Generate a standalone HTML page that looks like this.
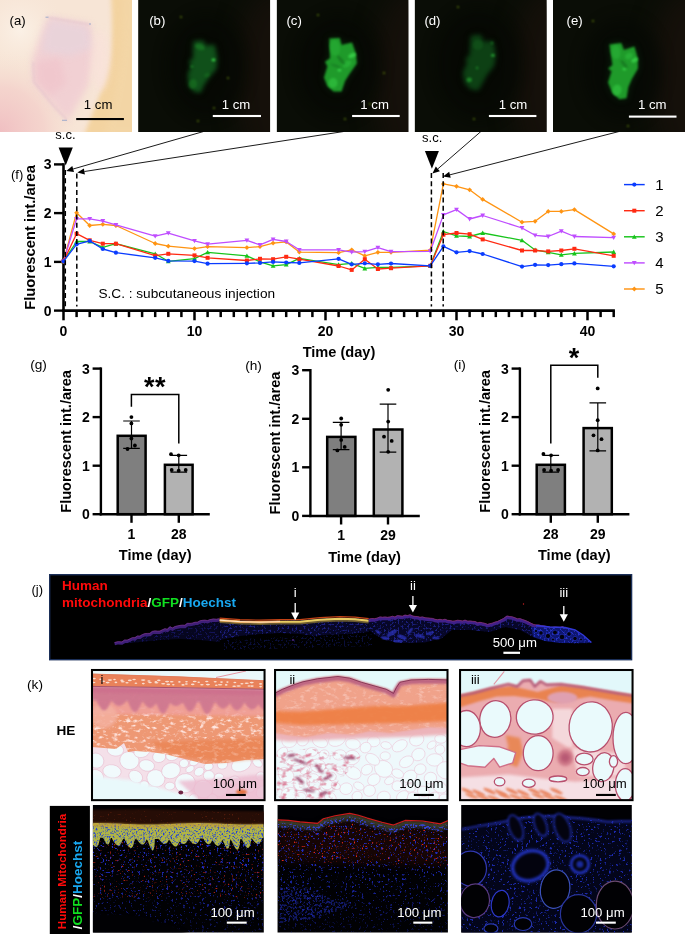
<!DOCTYPE html>
<html lang="en"><head><meta charset="utf-8"><title>Figure</title>
<style>
html,body{margin:0;padding:0;background:#fff}
body{width:685px;height:934px;overflow:hidden;font-family:"Liberation Sans",Arial,sans-serif}
svg{display:block}
svg text{font-family:"Liberation Sans",Arial,sans-serif}
</style></head><body>
<svg width="685" height="934" viewBox="0 0 685 934">
<rect width="685" height="934" fill="#fff"/>
<defs>
<filter id="bl1" color-interpolation-filters="sRGB" filterUnits="userSpaceOnUse" x="-60" y="-60" width="820" height="1100"><feGaussianBlur stdDeviation="1"/></filter>
<filter id="bl2" color-interpolation-filters="sRGB" filterUnits="userSpaceOnUse" x="-60" y="-60" width="820" height="1100"><feGaussianBlur stdDeviation="2"/></filter>
<filter id="bl3" color-interpolation-filters="sRGB" filterUnits="userSpaceOnUse" x="-60" y="-60" width="820" height="1100"><feGaussianBlur stdDeviation="3.5"/></filter>
<filter id="bl6" color-interpolation-filters="sRGB" filterUnits="userSpaceOnUse" x="-60" y="-60" width="820" height="1100"><feGaussianBlur stdDeviation="7"/></filter>
<filter id="bl12" color-interpolation-filters="sRGB" filterUnits="userSpaceOnUse" x="-60" y="-60" width="820" height="1100"><feGaussianBlur stdDeviation="12"/></filter>
<filter id="blob" color-interpolation-filters="sRGB" filterUnits="userSpaceOnUse" x="-60" y="-60" width="820" height="1100">
 <feTurbulence type="fractalNoise" baseFrequency="0.11" numOctaves="2" seed="4" result="n"/>
 <feDisplacementMap in="SourceGraphic" in2="n" scale="7" xChannelSelector="R" yChannelSelector="G"/>
 <feGaussianBlur stdDeviation="1.1"/>
</filter>
<clipPath id="ca"><rect x="0" y="0" width="132.05" height="131.9"/></clipPath>
<clipPath id="cb"><rect x="138.2" y="0" width="131.85" height="131.9"/></clipPath>
<clipPath id="cc"><rect x="276.85" y="0" width="131.45" height="131.9"/></clipPath>
<clipPath id="cd"><rect x="414.85" y="0" width="131.65" height="131.9"/></clipPath>
<clipPath id="ce"><rect x="553.1" y="0" width="131.9" height="131.9"/></clipPath>
<radialGradient id="gcorner" cx="0" cy="131" r="80" gradientUnits="userSpaceOnUse">
 <stop offset="0" stop-color="#f0bfc2"/><stop offset="0.55" stop-color="#f3cdc9" stop-opacity=".7"/><stop offset="1" stop-color="#f6e3d5" stop-opacity="0"/></radialGradient>
<radialGradient id="ghl" cx="20" cy="30" r="45" gradientUnits="userSpaceOnUse">
 <stop offset="0" stop-color="#fbf1e6"/><stop offset="1" stop-color="#f8e8da" stop-opacity="0"/></radialGradient>
</defs>
<g clip-path="url(#ca)">
<rect x="0" y="0" width="133" height="133" fill="#f7e5d6"/>
<rect x="0" y="0" width="133" height="133" fill="url(#ghl)"/>
<rect x="0" y="0" width="133" height="133" fill="url(#gcorner)"/>
<path d="M111 -5 C113 30 112 55 108 70 C103 90 94 108 84 136 L140 136 L140 -5Z" fill="#f3d3a0" filter="url(#bl2)"/>
<path d="M122 -5 C123 40 120 80 104 136 L140 136 L140 -5Z" fill="#f4d9ad" filter="url(#bl3)" opacity=".45"/>
<path d="M48 17 L90 24 L96 52 L88 86 L68 121 L52 104 L33 82 L32 60 L40 38Z" fill="#f1d0d3" filter="url(#bl3)"/>
<path d="M50 19 L88 26 L93 48 L70 56 L42 52 L44 34Z" fill="#e7d4dc" filter="url(#bl3)" opacity=".75"/>
<path d="M36 62 L60 58 L66 84 L50 96 L36 82Z" fill="#f0c2ca" filter="url(#bl3)" opacity=".6"/>
<path d="M48 17.5 L90 24.5 M33 62 L34 82 L52 104 L67 120" stroke="#dfbccb" stroke-width="1.4" fill="none" filter="url(#bl1)" opacity=".6"/>
<ellipse cx="100" cy="60" rx="9" ry="30" fill="#f9e2da" filter="url(#bl3)" opacity=".8"/>
<path d="M45.5 17.2h3M89 24h2M62 120.3h5" stroke="#8aa0c8" stroke-width="0.8"/>
</g>
<text x="9.6" y="25" font-family="Liberation Sans, Arial, sans-serif" font-size="13.2">(a)</text>
<text x="98.1" y="109.4" font-family="Liberation Sans, Arial, sans-serif" font-size="13.2" text-anchor="middle">1 cm</text>
<rect x="76.2" y="118.0" width="47.7" height="2.1"/>
<g clip-path="url(#cb)">
<rect x="137.3" y="0" width="134" height="133" fill="#0a0d06"/>
<ellipse cx="273.3" cy="80" rx="38" ry="90" fill="#15100a" filter="url(#bl12)"/>
<ellipse cx="206" cy="66" rx="40" ry="52" fill="#060904" filter="url(#bl6)" opacity=".85"/>
<path d="M193.4 41.6 L203.0 40.8 L205.6 46.0 L214.4 45.1 L217.0 58.3 L216.2 68.8 L209.2 76.7 L203.9 84.5 L200.4 92.4 L194.3 91.5 L189.0 85.4 L188.1 74.0 L191.6 66.2 L189.0 61.8 L193.4 58.3Z" fill="#0a2a0e" filter="url(#bl3)" opacity=".7"/>
<path d="M193.4 41.6 L203.0 40.8 L205.6 46.0 L214.4 45.1 L217.0 58.3 L216.2 68.8 L209.2 76.7 L203.9 84.5 L200.4 92.4 L194.3 91.5 L189.0 85.4 L188.1 74.0 L191.6 66.2 L189.0 61.8 L193.4 58.3Z" fill="#10501a" filter="url(#bl2)"/>
<ellipse cx="213.5" cy="60" rx="2" ry="1.4" transform="rotate(0 213.5 60)" fill="#38d048" filter="url(#bl1)" opacity="0.95"/>
<ellipse cx="200" cy="47" rx="5" ry="3" transform="rotate(20 200 47)" fill="#1a7a24" filter="url(#bl1)" opacity="0.7"/>
<ellipse cx="192" cy="66.5" rx="1.8" ry="1.6" transform="rotate(0 192 66.5)" fill="#1e8228" filter="url(#bl1)" opacity="0.7"/>
<ellipse cx="193" cy="84" rx="4" ry="5" transform="rotate(10 193 84)" fill="#187020" filter="url(#bl1)" opacity="0.7"/>
<ellipse cx="207" cy="75" rx="3" ry="2" transform="rotate(-30 207 75)" fill="#187020" filter="url(#bl1)" opacity="0.6"/>
<circle cx="181" cy="17" r="1.1" fill="#6a8a10" filter="url(#bl1)" opacity=".8"/>
<circle cx="228" cy="78" r="1.1" fill="#6a8a10" filter="url(#bl1)" opacity=".8"/>
<circle cx="214" cy="108" r="1.1" fill="#6a8a10" filter="url(#bl1)" opacity=".8"/>
<circle cx="198" cy="121" r="1.1" fill="#6a8a10" filter="url(#bl1)" opacity=".8"/>
</g>
<text x="149.2" y="25" font-family="Liberation Sans, Arial, sans-serif" font-size="13.2" fill="#fff">(b)</text>
<text x="236" y="108.9" font-family="Liberation Sans, Arial, sans-serif" font-size="13.2" fill="#fff" text-anchor="middle">1 cm</text>
<rect x="212.8" y="114.95" width="48.2" height="2.1" fill="#fff"/>
<g clip-path="url(#cc)">
<rect x="275.6" y="0" width="134" height="133" fill="#0a0d06"/>
<ellipse cx="411.6" cy="80" rx="38" ry="90" fill="#15100a" filter="url(#bl12)"/>
<ellipse cx="338" cy="66" rx="42" ry="52" fill="#060904" filter="url(#bl6)" opacity=".85"/>
<path d="M329.3 38.6 L339.8 38.1 L341.5 45.1 L352.0 42.5 L356.0 53.9 L356.8 63.5 L349.4 74.0 L345.0 81.0 L341.5 91.5 L333.6 91.5 L327.5 86.3 L324.0 77.5 L327.5 66.2 L324.9 61.8 L330.1 58.3Z" fill="#0c3a12" filter="url(#bl3)" opacity=".7"/>
<path d="M329.3 38.6 L339.8 38.1 L341.5 45.1 L352.0 42.5 L356.0 53.9 L356.8 63.5 L349.4 74.0 L345.0 81.0 L341.5 91.5 L333.6 91.5 L327.5 86.3 L324.0 77.5 L327.5 66.2 L324.9 61.8 L330.1 58.3Z" fill="#1f9a2a" filter="url(#bl1)"/>
<ellipse cx="352" cy="55.5" rx="4" ry="2" transform="rotate(-25 352 55.5)" fill="#3ad44a" filter="url(#bl1)" opacity="0.9"/>
<ellipse cx="339.5" cy="70" rx="2" ry="1.6" transform="rotate(0 339.5 70)" fill="#3ad44a" filter="url(#bl1)" opacity="0.9"/>
<ellipse cx="333" cy="83" rx="4.5" ry="5" transform="rotate(10 333 83)" fill="#2ebc3c" filter="url(#bl1)" opacity="0.85"/>
<ellipse cx="335" cy="48" rx="5" ry="8" transform="rotate(-8 335 48)" fill="#27ac34" filter="url(#bl1)" opacity="0.7"/>
<ellipse cx="347" cy="64" rx="5" ry="3" transform="rotate(-30 347 64)" fill="#2cb83a" filter="url(#bl1)" opacity="0.7"/>
<ellipse cx="341" cy="60" rx="1.5" ry="6" transform="rotate(-40 341 60)" fill="#136a1c" filter="url(#bl1)" opacity="0.7"/>
<ellipse cx="336" cy="66" rx="6" ry="1.2" transform="rotate(20 336 66)" fill="#147020" filter="url(#bl1)" opacity="0.6"/>
<circle cx="318" cy="15" r="1.1" fill="#6a8a10" filter="url(#bl1)" opacity=".8"/>
<circle cx="384" cy="73" r="1.1" fill="#6a8a10" filter="url(#bl1)" opacity=".8"/>
<circle cx="370" cy="104" r="1.1" fill="#6a8a10" filter="url(#bl1)" opacity=".8"/>
<circle cx="345" cy="119" r="1.1" fill="#6a8a10" filter="url(#bl1)" opacity=".8"/>
</g>
<text x="286.4" y="25" font-family="Liberation Sans, Arial, sans-serif" font-size="13.2" fill="#fff">(c)</text>
<text x="374.6" y="108.9" font-family="Liberation Sans, Arial, sans-serif" font-size="13.2" fill="#fff" text-anchor="middle">1 cm</text>
<rect x="352.1" y="114.95" width="47.6" height="2.1" fill="#fff"/>
<g clip-path="url(#cd)">
<rect x="413.9" y="0" width="134" height="133" fill="#0a0d06"/>
<ellipse cx="549.9" cy="80" rx="38" ry="90" fill="#15100a" filter="url(#bl12)"/>
<ellipse cx="478" cy="64" rx="44" ry="56" fill="#060904" filter="url(#bl6)" opacity=".85"/>
<path d="M471.0 36.0 L480.6 35.1 L483.3 42.1 L492.9 41.3 L495.5 55.3 L493.8 65.8 L486.8 74.5 L482.4 82.4 L478.0 90.3 L470.1 88.5 L464.9 82.4 L463.1 72.8 L467.5 63.2 L465.8 58.8 L470.1 55.3Z" fill="#08240c" filter="url(#bl3)" opacity=".7"/>
<path d="M471.0 36.0 L480.6 35.1 L483.3 42.1 L492.9 41.3 L495.5 55.3 L493.8 65.8 L486.8 74.5 L482.4 82.4 L478.0 90.3 L470.1 88.5 L464.9 82.4 L463.1 72.8 L467.5 63.2 L465.8 58.8 L470.1 55.3Z" fill="#0d4014" filter="url(#bl2)"/>
<ellipse cx="492.9" cy="55.3" rx="2" ry="1.6" transform="rotate(0 492.9 55.3)" fill="#249a30" filter="url(#bl1)" opacity="0.9"/>
<ellipse cx="469.3" cy="79.8" rx="2.6" ry="2.4" transform="rotate(0 469.3 79.8)" fill="#1e8a28" filter="url(#bl1)" opacity="0.9"/>
<ellipse cx="477.1" cy="68" rx="1.4" ry="1.4" transform="rotate(0 477.1 68)" fill="#1c8026" filter="url(#bl1)" opacity="0.8"/>
<ellipse cx="492" cy="43" rx="1.5" ry="1.5" transform="rotate(0 492 43)" fill="#1a7a24" filter="url(#bl1)" opacity="0.7"/>
<ellipse cx="478" cy="45" rx="5" ry="5" transform="rotate(0 478 45)" fill="#12541a" filter="url(#bl1)" opacity="0.7"/>
<circle cx="458" cy="7" r="1.1" fill="#6a8a10" filter="url(#bl1)" opacity=".8"/>
<circle cx="474" cy="119" r="1.1" fill="#6a8a10" filter="url(#bl1)" opacity=".8"/>
</g>
<text x="424.4" y="25" font-family="Liberation Sans, Arial, sans-serif" font-size="13.2" fill="#fff">(d)</text>
<text x="513" y="108.9" font-family="Liberation Sans, Arial, sans-serif" font-size="13.2" fill="#fff" text-anchor="middle">1 cm</text>
<rect x="488.9" y="114.95" width="47.5" height="2.1" fill="#fff"/>
<g clip-path="url(#ce)">
<rect x="552.1" y="0" width="134" height="133" fill="#0a0d06"/>
<ellipse cx="688.1" cy="80" rx="38" ry="90" fill="#15100a" filter="url(#bl12)"/>
<ellipse cx="622" cy="70" rx="40" ry="52" fill="#060904" filter="url(#bl6)" opacity=".85"/>
<path d="M609.4 44.4 L621.3 43.1 L623.9 50.1 L634.4 46.6 L637.9 58.9 L637.9 68.5 L631.8 79.0 L628.3 86.9 L626.5 98.3 L619.5 99.2 L612.5 93.0 L608.1 82.5 L611.6 71.2 L608.1 68.5 L612.5 65.0Z" fill="#0c3a12" filter="url(#bl3)" opacity=".7"/>
<path d="M609.4 44.4 L621.3 43.1 L623.9 50.1 L634.4 46.6 L637.9 58.9 L637.9 68.5 L631.8 79.0 L628.3 86.9 L626.5 98.3 L619.5 99.2 L612.5 93.0 L608.1 82.5 L611.6 71.2 L608.1 68.5 L612.5 65.0Z" fill="#1f9a2a" filter="url(#bl1)"/>
<ellipse cx="634.5" cy="60" rx="3.5" ry="2" transform="rotate(-30 634.5 60)" fill="#38d048" filter="url(#bl1)" opacity="0.9"/>
<ellipse cx="624.5" cy="69" rx="2" ry="1.6" transform="rotate(0 624.5 69)" fill="#38d048" filter="url(#bl1)" opacity="0.85"/>
<ellipse cx="617" cy="90" rx="4.5" ry="5.5" transform="rotate(10 617 90)" fill="#2ebc3c" filter="url(#bl1)" opacity="0.85"/>
<ellipse cx="616" cy="52" rx="4.5" ry="7" transform="rotate(-5 616 52)" fill="#28ae36" filter="url(#bl1)" opacity="0.7"/>
<ellipse cx="629" cy="56" rx="4" ry="3" transform="rotate(-30 629 56)" fill="#2cb83a" filter="url(#bl1)" opacity="0.7"/>
<ellipse cx="624" cy="64" rx="1.4" ry="5" transform="rotate(-40 624 64)" fill="#136a1c" filter="url(#bl1)" opacity="0.7"/>
<circle cx="593" cy="21" r="1.1" fill="#6a8a10" filter="url(#bl1)" opacity=".8"/>
<circle cx="628" cy="126" r="1.1" fill="#6a8a10" filter="url(#bl1)" opacity=".8"/>
</g>
<text x="566.5" y="25" font-family="Liberation Sans, Arial, sans-serif" font-size="13.2" fill="#fff">(e)</text>
<text x="652.2" y="109.45" font-family="Liberation Sans, Arial, sans-serif" font-size="13.2" fill="#fff" text-anchor="middle">1 cm</text>
<rect x="628.9" y="115.55" width="47.6" height="2.1" fill="#fff"/>
<g id="chartf">
<path d="M63.5 163.2V311.8" stroke="#000" stroke-width="2.6" fill="none"/>
<path d="M62.2 310.6H614.9" stroke="#000" stroke-width="2.6" fill="none"/>
<path d="M54.0 310.6H63.5" stroke="#000" stroke-width="2.4"/>
<text x="51.5" y="315.6" font-family="Liberation Sans, Arial, sans-serif" font-size="14" font-weight="bold" text-anchor="end">0</text>
<path d="M54.0 261.9H63.5" stroke="#000" stroke-width="2.4"/>
<text x="51.5" y="266.9" font-family="Liberation Sans, Arial, sans-serif" font-size="14" font-weight="bold" text-anchor="end">1</text>
<path d="M54.0 213.1H63.5" stroke="#000" stroke-width="2.4"/>
<text x="51.5" y="218.1" font-family="Liberation Sans, Arial, sans-serif" font-size="14" font-weight="bold" text-anchor="end">2</text>
<path d="M54.0 164.4H63.5" stroke="#000" stroke-width="2.4"/>
<text x="51.5" y="169.4" font-family="Liberation Sans, Arial, sans-serif" font-size="14" font-weight="bold" text-anchor="end">3</text>
<path d="M63.5 310.6v9.7" stroke="#000" stroke-width="2.5"/>
<path d="M76.6 310.6v6.5" stroke="#000" stroke-width="2.5"/>
<path d="M89.7 310.6v6.5" stroke="#000" stroke-width="2.5"/>
<path d="M102.8 310.6v6.5" stroke="#000" stroke-width="2.5"/>
<path d="M115.9 310.6v6.5" stroke="#000" stroke-width="2.5"/>
<path d="M129.0 310.6v6.5" stroke="#000" stroke-width="2.5"/>
<path d="M142.1 310.6v6.5" stroke="#000" stroke-width="2.5"/>
<path d="M155.2 310.6v6.5" stroke="#000" stroke-width="2.5"/>
<path d="M168.3 310.6v6.5" stroke="#000" stroke-width="2.5"/>
<path d="M181.4 310.6v6.5" stroke="#000" stroke-width="2.5"/>
<path d="M194.5 310.6v9.7" stroke="#000" stroke-width="2.5"/>
<path d="M207.6 310.6v6.5" stroke="#000" stroke-width="2.5"/>
<path d="M220.7 310.6v6.5" stroke="#000" stroke-width="2.5"/>
<path d="M233.8 310.6v6.5" stroke="#000" stroke-width="2.5"/>
<path d="M246.9 310.6v6.5" stroke="#000" stroke-width="2.5"/>
<path d="M260.0 310.6v6.5" stroke="#000" stroke-width="2.5"/>
<path d="M273.1 310.6v6.5" stroke="#000" stroke-width="2.5"/>
<path d="M286.2 310.6v6.5" stroke="#000" stroke-width="2.5"/>
<path d="M299.3 310.6v6.5" stroke="#000" stroke-width="2.5"/>
<path d="M312.4 310.6v6.5" stroke="#000" stroke-width="2.5"/>
<path d="M325.5 310.6v9.7" stroke="#000" stroke-width="2.5"/>
<path d="M338.6 310.6v6.5" stroke="#000" stroke-width="2.5"/>
<path d="M351.7 310.6v6.5" stroke="#000" stroke-width="2.5"/>
<path d="M364.8 310.6v6.5" stroke="#000" stroke-width="2.5"/>
<path d="M377.9 310.6v6.5" stroke="#000" stroke-width="2.5"/>
<path d="M391.0 310.6v6.5" stroke="#000" stroke-width="2.5"/>
<path d="M404.1 310.6v6.5" stroke="#000" stroke-width="2.5"/>
<path d="M417.2 310.6v6.5" stroke="#000" stroke-width="2.5"/>
<path d="M430.3 310.6v6.5" stroke="#000" stroke-width="2.5"/>
<path d="M443.4 310.6v6.5" stroke="#000" stroke-width="2.5"/>
<path d="M456.5 310.6v9.7" stroke="#000" stroke-width="2.5"/>
<path d="M469.6 310.6v6.5" stroke="#000" stroke-width="2.5"/>
<path d="M482.7 310.6v6.5" stroke="#000" stroke-width="2.5"/>
<path d="M495.8 310.6v6.5" stroke="#000" stroke-width="2.5"/>
<path d="M508.9 310.6v6.5" stroke="#000" stroke-width="2.5"/>
<path d="M522.0 310.6v6.5" stroke="#000" stroke-width="2.5"/>
<path d="M535.1 310.6v6.5" stroke="#000" stroke-width="2.5"/>
<path d="M548.2 310.6v6.5" stroke="#000" stroke-width="2.5"/>
<path d="M561.3 310.6v6.5" stroke="#000" stroke-width="2.5"/>
<path d="M574.4 310.6v6.5" stroke="#000" stroke-width="2.5"/>
<path d="M587.5 310.6v9.7" stroke="#000" stroke-width="2.5"/>
<path d="M600.6 310.6v6.5" stroke="#000" stroke-width="2.5"/>
<path d="M613.7 310.6v6.5" stroke="#000" stroke-width="2.5"/>
<text x="63.5" y="335.5" font-family="Liberation Sans, Arial, sans-serif" font-size="14" font-weight="bold" text-anchor="middle">0</text>
<text x="194.5" y="335.5" font-family="Liberation Sans, Arial, sans-serif" font-size="14" font-weight="bold" text-anchor="middle">10</text>
<text x="325.5" y="335.5" font-family="Liberation Sans, Arial, sans-serif" font-size="14" font-weight="bold" text-anchor="middle">20</text>
<text x="456.5" y="335.5" font-family="Liberation Sans, Arial, sans-serif" font-size="14" font-weight="bold" text-anchor="middle">30</text>
<text x="587.5" y="335.5" font-family="Liberation Sans, Arial, sans-serif" font-size="14" font-weight="bold" text-anchor="middle">40</text>
<polyline fill="none" stroke="#ff9412" stroke-width="1.3" stroke-linejoin="round" points="63.5,261.3 76.6,212.7 89.7,225.5 102.8,224.3 115.9,225.5 155.2,243.5 168.3,246.2 194.5,248.6 207.6,246.6 246.9,247.6 260.0,246.6 273.1,243.1 286.2,241.9 299.3,252.1 338.6,252.7 351.7,249.8 364.8,255.8 377.9,252.3 391.0,252.3 430.3,250.2 443.4,183.9 456.5,186.3 469.6,189.8 482.7,199.4 522.0,222.2 535.1,221.3 548.2,211.4 561.3,211.4 574.4,209.6 613.7,233.9"/>
<path d="M63.5 258.9L65.9 261.3L63.5 263.7L61.1 261.3Z" fill="#ff9412"/>
<path d="M76.6 210.3L79.0 212.7L76.6 215.1L74.2 212.7Z" fill="#ff9412"/>
<path d="M89.7 223.1L92.1 225.5L89.7 227.9L87.3 225.5Z" fill="#ff9412"/>
<path d="M102.8 221.9L105.2 224.3L102.8 226.7L100.4 224.3Z" fill="#ff9412"/>
<path d="M115.9 223.1L118.3 225.5L115.9 227.9L113.5 225.5Z" fill="#ff9412"/>
<path d="M155.2 241.1L157.6 243.5L155.2 245.9L152.8 243.5Z" fill="#ff9412"/>
<path d="M168.3 243.8L170.7 246.2L168.3 248.6L165.9 246.2Z" fill="#ff9412"/>
<path d="M194.5 246.2L196.9 248.6L194.5 251.0L192.1 248.6Z" fill="#ff9412"/>
<path d="M207.6 244.2L210.0 246.6L207.6 249.0L205.2 246.6Z" fill="#ff9412"/>
<path d="M246.9 245.2L249.3 247.6L246.9 250.0L244.5 247.6Z" fill="#ff9412"/>
<path d="M260.0 244.2L262.4 246.6L260.0 249.0L257.6 246.6Z" fill="#ff9412"/>
<path d="M273.1 240.7L275.5 243.1L273.1 245.5L270.7 243.1Z" fill="#ff9412"/>
<path d="M286.2 239.5L288.6 241.9L286.2 244.3L283.8 241.9Z" fill="#ff9412"/>
<path d="M299.3 249.7L301.7 252.1L299.3 254.5L296.9 252.1Z" fill="#ff9412"/>
<path d="M338.6 250.3L341.0 252.7L338.6 255.1L336.2 252.7Z" fill="#ff9412"/>
<path d="M351.7 247.4L354.1 249.8L351.7 252.2L349.3 249.8Z" fill="#ff9412"/>
<path d="M364.8 253.4L367.2 255.8L364.8 258.2L362.4 255.8Z" fill="#ff9412"/>
<path d="M377.9 249.9L380.3 252.3L377.9 254.7L375.5 252.3Z" fill="#ff9412"/>
<path d="M391.0 249.9L393.4 252.3L391.0 254.7L388.6 252.3Z" fill="#ff9412"/>
<path d="M430.3 247.8L432.7 250.2L430.3 252.6L427.9 250.2Z" fill="#ff9412"/>
<path d="M443.4 181.5L445.8 183.9L443.4 186.3L441.0 183.9Z" fill="#ff9412"/>
<path d="M456.5 183.9L458.9 186.3L456.5 188.7L454.1 186.3Z" fill="#ff9412"/>
<path d="M469.6 187.4L472.0 189.8L469.6 192.2L467.2 189.8Z" fill="#ff9412"/>
<path d="M482.7 197.0L485.1 199.4L482.7 201.8L480.3 199.4Z" fill="#ff9412"/>
<path d="M522.0 219.8L524.4 222.2L522.0 224.6L519.6 222.2Z" fill="#ff9412"/>
<path d="M535.1 218.9L537.5 221.3L535.1 223.7L532.7 221.3Z" fill="#ff9412"/>
<path d="M548.2 209.0L550.6 211.4L548.2 213.8L545.8 211.4Z" fill="#ff9412"/>
<path d="M561.3 209.0L563.7 211.4L561.3 213.8L558.9 211.4Z" fill="#ff9412"/>
<path d="M574.4 207.2L576.8 209.6L574.4 212.0L572.0 209.6Z" fill="#ff9412"/>
<path d="M613.7 231.5L616.1 233.9L613.7 236.3L611.3 233.9Z" fill="#ff9412"/>
<polyline fill="none" stroke="#bf4dff" stroke-width="1.3" stroke-linejoin="round" points="63.5,261.3 76.6,218.8 89.7,218.8 102.8,221.1 115.9,224.9 155.2,236.2 168.3,233.1 194.5,240.9 207.6,244.1 246.9,240.4 260.0,244.9 273.1,239.4 286.2,241.5 299.3,249.8 338.6,249.8 351.7,252.1 364.8,251.7 377.9,247.6 391.0,251.7 430.3,251.3 443.4,214.9 456.5,209.6 469.6,219.0 482.7,215.5 522.0,228.0 535.1,235.3 548.2,236.5 561.3,231.2 574.4,236.5 613.7,237.7"/>
<path d="M63.5 263.7L65.9 259.4L61.1 259.4Z" fill="#bf4dff"/>
<path d="M76.6 221.2L79.0 216.9L74.2 216.9Z" fill="#bf4dff"/>
<path d="M89.7 221.2L92.1 216.9L87.3 216.9Z" fill="#bf4dff"/>
<path d="M102.8 223.5L105.2 219.1L100.4 219.1Z" fill="#bf4dff"/>
<path d="M115.9 227.3L118.3 223.0L113.5 223.0Z" fill="#bf4dff"/>
<path d="M155.2 238.6L157.6 234.3L152.8 234.3Z" fill="#bf4dff"/>
<path d="M168.3 235.5L170.7 231.2L165.9 231.2Z" fill="#bf4dff"/>
<path d="M194.5 243.3L196.9 239.0L192.1 239.0Z" fill="#bf4dff"/>
<path d="M207.6 246.5L210.0 242.2L205.2 242.2Z" fill="#bf4dff"/>
<path d="M246.9 242.8L249.3 238.5L244.5 238.5Z" fill="#bf4dff"/>
<path d="M260.0 247.3L262.4 243.0L257.6 243.0Z" fill="#bf4dff"/>
<path d="M273.1 241.8L275.5 237.5L270.7 237.5Z" fill="#bf4dff"/>
<path d="M286.2 243.9L288.6 239.5L283.8 239.5Z" fill="#bf4dff"/>
<path d="M299.3 252.2L301.7 247.9L296.9 247.9Z" fill="#bf4dff"/>
<path d="M338.6 252.2L341.0 247.9L336.2 247.9Z" fill="#bf4dff"/>
<path d="M351.7 254.5L354.1 250.2L349.3 250.2Z" fill="#bf4dff"/>
<path d="M364.8 254.1L367.2 249.8L362.4 249.8Z" fill="#bf4dff"/>
<path d="M377.9 250.0L380.3 245.7L375.5 245.7Z" fill="#bf4dff"/>
<path d="M391.0 254.1L393.4 249.8L388.6 249.8Z" fill="#bf4dff"/>
<path d="M430.3 253.7L432.7 249.3L427.9 249.3Z" fill="#bf4dff"/>
<path d="M443.4 217.3L445.8 213.0L441.0 213.0Z" fill="#bf4dff"/>
<path d="M456.5 212.0L458.9 207.7L454.1 207.7Z" fill="#bf4dff"/>
<path d="M469.6 221.4L472.0 217.1L467.2 217.1Z" fill="#bf4dff"/>
<path d="M482.7 217.9L485.1 213.6L480.3 213.6Z" fill="#bf4dff"/>
<path d="M522.0 230.4L524.4 226.1L519.6 226.1Z" fill="#bf4dff"/>
<path d="M535.1 237.7L537.5 233.4L532.7 233.4Z" fill="#bf4dff"/>
<path d="M548.2 238.9L550.6 234.6L545.8 234.6Z" fill="#bf4dff"/>
<path d="M561.3 233.6L563.7 229.3L558.9 229.3Z" fill="#bf4dff"/>
<path d="M574.4 238.9L576.8 234.6L572.0 234.6Z" fill="#bf4dff"/>
<path d="M613.7 240.1L616.1 235.7L611.3 235.7Z" fill="#bf4dff"/>
<polyline fill="none" stroke="#17c41b" stroke-width="1.3" stroke-linejoin="round" points="63.5,261.3 76.6,241.5 89.7,241.5 102.8,247.4 115.9,243.7 155.2,253.8 168.3,261.3 194.5,258.7 207.6,252.3 246.9,255.8 260.0,261.9 273.1,265.8 286.2,264.6 299.3,258.4 338.6,264.6 351.7,263.3 364.8,268.4 377.9,267.4 391.0,267.4 430.3,265.8 443.4,231.5 456.5,235.9 469.6,236.5 482.7,233.0 522.0,240.3 535.1,249.9 548.2,252.3 561.3,254.9 574.4,253.4 613.7,252.0"/>
<path d="M63.5 258.9L65.9 263.2L61.1 263.2Z" fill="#17c41b"/>
<path d="M76.6 239.1L79.0 243.4L74.2 243.4Z" fill="#17c41b"/>
<path d="M89.7 239.1L92.1 243.4L87.3 243.4Z" fill="#17c41b"/>
<path d="M102.8 245.0L105.2 249.3L100.4 249.3Z" fill="#17c41b"/>
<path d="M115.9 241.3L118.3 245.7L113.5 245.7Z" fill="#17c41b"/>
<path d="M155.2 251.4L157.6 255.7L152.8 255.7Z" fill="#17c41b"/>
<path d="M168.3 258.9L170.7 263.2L165.9 263.2Z" fill="#17c41b"/>
<path d="M194.5 256.3L196.9 260.6L192.1 260.6Z" fill="#17c41b"/>
<path d="M207.6 249.9L210.0 254.2L205.2 254.2Z" fill="#17c41b"/>
<path d="M246.9 253.4L249.3 257.7L244.5 257.7Z" fill="#17c41b"/>
<path d="M260.0 259.5L262.4 263.8L257.6 263.8Z" fill="#17c41b"/>
<path d="M273.1 263.4L275.5 267.7L270.7 267.7Z" fill="#17c41b"/>
<path d="M286.2 262.2L288.6 266.5L283.8 266.5Z" fill="#17c41b"/>
<path d="M299.3 256.0L301.7 260.3L296.9 260.3Z" fill="#17c41b"/>
<path d="M338.6 262.2L341.0 266.5L336.2 266.5Z" fill="#17c41b"/>
<path d="M351.7 260.9L354.1 265.2L349.3 265.2Z" fill="#17c41b"/>
<path d="M364.8 266.0L367.2 270.4L362.4 270.4Z" fill="#17c41b"/>
<path d="M377.9 265.0L380.3 269.3L375.5 269.3Z" fill="#17c41b"/>
<path d="M391.0 265.0L393.4 269.3L388.6 269.3Z" fill="#17c41b"/>
<path d="M430.3 263.4L432.7 267.7L427.9 267.7Z" fill="#17c41b"/>
<path d="M443.4 229.1L445.8 233.5L441.0 233.5Z" fill="#17c41b"/>
<path d="M456.5 233.5L458.9 237.8L454.1 237.8Z" fill="#17c41b"/>
<path d="M469.6 234.1L472.0 238.4L467.2 238.4Z" fill="#17c41b"/>
<path d="M482.7 230.6L485.1 234.9L480.3 234.9Z" fill="#17c41b"/>
<path d="M522.0 237.9L524.4 242.2L519.6 242.2Z" fill="#17c41b"/>
<path d="M535.1 247.5L537.5 251.8L532.7 251.8Z" fill="#17c41b"/>
<path d="M548.2 249.9L550.6 254.2L545.8 254.2Z" fill="#17c41b"/>
<path d="M561.3 252.5L563.7 256.8L558.9 256.8Z" fill="#17c41b"/>
<path d="M574.4 251.0L576.8 255.4L572.0 255.4Z" fill="#17c41b"/>
<path d="M613.7 249.6L616.1 253.9L611.3 253.9Z" fill="#17c41b"/>
<polyline fill="none" stroke="#ff2a12" stroke-width="1.3" stroke-linejoin="round" points="63.5,261.3 76.6,233.7 89.7,240.3 102.8,243.7 115.9,243.7 155.2,255.6 168.3,253.8 194.5,255.4 207.6,257.8 246.9,260.5 260.0,258.8 273.1,259.2 286.2,256.8 299.3,259.2 338.6,266.0 351.7,269.9 364.8,259.2 377.9,269.0 391.0,268.2 430.3,265.8 443.4,234.7 456.5,233.0 469.6,234.2 482.7,239.4 522.0,250.5 535.1,250.5 548.2,251.4 561.3,250.5 574.4,248.8 613.7,255.8"/>
<rect x="61.5" y="259.3" width="4.0" height="4.0" fill="#ff2a12"/>
<rect x="74.6" y="231.7" width="4.0" height="4.0" fill="#ff2a12"/>
<rect x="87.7" y="238.3" width="4.0" height="4.0" fill="#ff2a12"/>
<rect x="100.8" y="241.7" width="4.0" height="4.0" fill="#ff2a12"/>
<rect x="113.9" y="241.7" width="4.0" height="4.0" fill="#ff2a12"/>
<rect x="153.2" y="253.6" width="4.0" height="4.0" fill="#ff2a12"/>
<rect x="166.3" y="251.8" width="4.0" height="4.0" fill="#ff2a12"/>
<rect x="192.5" y="253.4" width="4.0" height="4.0" fill="#ff2a12"/>
<rect x="205.6" y="255.8" width="4.0" height="4.0" fill="#ff2a12"/>
<rect x="244.9" y="258.5" width="4.0" height="4.0" fill="#ff2a12"/>
<rect x="258.0" y="256.8" width="4.0" height="4.0" fill="#ff2a12"/>
<rect x="271.1" y="257.2" width="4.0" height="4.0" fill="#ff2a12"/>
<rect x="284.2" y="254.8" width="4.0" height="4.0" fill="#ff2a12"/>
<rect x="297.3" y="257.2" width="4.0" height="4.0" fill="#ff2a12"/>
<rect x="336.6" y="264.0" width="4.0" height="4.0" fill="#ff2a12"/>
<rect x="349.7" y="267.9" width="4.0" height="4.0" fill="#ff2a12"/>
<rect x="362.8" y="257.2" width="4.0" height="4.0" fill="#ff2a12"/>
<rect x="375.9" y="267.0" width="4.0" height="4.0" fill="#ff2a12"/>
<rect x="389.0" y="266.2" width="4.0" height="4.0" fill="#ff2a12"/>
<rect x="428.3" y="263.8" width="4.0" height="4.0" fill="#ff2a12"/>
<rect x="441.4" y="232.7" width="4.0" height="4.0" fill="#ff2a12"/>
<rect x="454.5" y="231.0" width="4.0" height="4.0" fill="#ff2a12"/>
<rect x="467.6" y="232.2" width="4.0" height="4.0" fill="#ff2a12"/>
<rect x="480.7" y="237.4" width="4.0" height="4.0" fill="#ff2a12"/>
<rect x="520.0" y="248.5" width="4.0" height="4.0" fill="#ff2a12"/>
<rect x="533.1" y="248.5" width="4.0" height="4.0" fill="#ff2a12"/>
<rect x="546.2" y="249.4" width="4.0" height="4.0" fill="#ff2a12"/>
<rect x="559.3" y="248.5" width="4.0" height="4.0" fill="#ff2a12"/>
<rect x="572.4" y="246.8" width="4.0" height="4.0" fill="#ff2a12"/>
<rect x="611.7" y="253.8" width="4.0" height="4.0" fill="#ff2a12"/>
<polyline fill="none" stroke="#0a3cff" stroke-width="1.3" stroke-linejoin="round" points="63.5,261.3 76.6,244.3 89.7,240.9 102.8,249.0 115.9,252.7 155.2,257.8 168.3,260.9 194.5,261.1 207.6,263.7 246.9,263.3 260.0,262.9 273.1,261.9 286.2,262.5 299.3,262.9 338.6,258.8 351.7,264.3 364.8,263.3 377.9,264.3 391.0,263.5 430.3,265.8 443.4,246.4 456.5,252.3 469.6,251.1 482.7,254.0 522.0,266.6 535.1,264.8 548.2,265.1 561.3,264.2 574.4,263.4 613.7,266.3"/>
<circle cx="63.5" cy="261.3" r="2.10" fill="#0a3cff"/>
<circle cx="76.6" cy="244.3" r="2.10" fill="#0a3cff"/>
<circle cx="89.7" cy="240.9" r="2.10" fill="#0a3cff"/>
<circle cx="102.8" cy="249.0" r="2.10" fill="#0a3cff"/>
<circle cx="115.9" cy="252.7" r="2.10" fill="#0a3cff"/>
<circle cx="155.2" cy="257.8" r="2.10" fill="#0a3cff"/>
<circle cx="168.3" cy="260.9" r="2.10" fill="#0a3cff"/>
<circle cx="194.5" cy="261.1" r="2.10" fill="#0a3cff"/>
<circle cx="207.6" cy="263.7" r="2.10" fill="#0a3cff"/>
<circle cx="246.9" cy="263.3" r="2.10" fill="#0a3cff"/>
<circle cx="260.0" cy="262.9" r="2.10" fill="#0a3cff"/>
<circle cx="273.1" cy="261.9" r="2.10" fill="#0a3cff"/>
<circle cx="286.2" cy="262.5" r="2.10" fill="#0a3cff"/>
<circle cx="299.3" cy="262.9" r="2.10" fill="#0a3cff"/>
<circle cx="338.6" cy="258.8" r="2.10" fill="#0a3cff"/>
<circle cx="351.7" cy="264.3" r="2.10" fill="#0a3cff"/>
<circle cx="364.8" cy="263.3" r="2.10" fill="#0a3cff"/>
<circle cx="377.9" cy="264.3" r="2.10" fill="#0a3cff"/>
<circle cx="391.0" cy="263.5" r="2.10" fill="#0a3cff"/>
<circle cx="430.3" cy="265.8" r="2.10" fill="#0a3cff"/>
<circle cx="443.4" cy="246.4" r="2.10" fill="#0a3cff"/>
<circle cx="456.5" cy="252.3" r="2.10" fill="#0a3cff"/>
<circle cx="469.6" cy="251.1" r="2.10" fill="#0a3cff"/>
<circle cx="482.7" cy="254.0" r="2.10" fill="#0a3cff"/>
<circle cx="522.0" cy="266.6" r="2.10" fill="#0a3cff"/>
<circle cx="535.1" cy="264.8" r="2.10" fill="#0a3cff"/>
<circle cx="548.2" cy="265.1" r="2.10" fill="#0a3cff"/>
<circle cx="561.3" cy="264.2" r="2.10" fill="#0a3cff"/>
<circle cx="574.4" cy="263.4" r="2.10" fill="#0a3cff"/>
<circle cx="613.7" cy="266.3" r="2.10" fill="#0a3cff"/>
<path d="M65.3 170V306.6" stroke="#000" stroke-width="1.5" stroke-dasharray="5 3.2" fill="none"/>
<path d="M76.8 173.5V306.6" stroke="#000" stroke-width="1.5" stroke-dasharray="5 3.2" fill="none"/>
<path d="M431.4 173V306.6" stroke="#000" stroke-width="1.5" stroke-dasharray="5 3.2" fill="none"/>
<path d="M443.2 173V306.6" stroke="#000" stroke-width="1.5" stroke-dasharray="5 3.2" fill="none"/>
<path d="M58.6 147.4H72.8L65.7 165.6Z" fill="#000"/>
<path d="M424.9 151H438.9L431.9 168.8Z" fill="#000"/>
<path d="M203.5 131.5L73.1 169.0" stroke="#000" stroke-width="0.9" fill="none"/>
<path d="M66.2 171.0L72.3 166.0L74.0 172.0Z" fill="#000"/>
<path d="M343.7 131.5L84.4 171.5" stroke="#000" stroke-width="0.9" fill="none"/>
<path d="M77.3 172.6L83.9 168.4L84.9 174.6Z" fill="#000"/>
<path d="M480.9 131.5L437.8 168.9" stroke="#000" stroke-width="0.9" fill="none"/>
<path d="M432.4 173.6L435.8 166.5L439.9 171.2Z" fill="#000"/>
<path d="M619.0 131.5L450.0 174.8" stroke="#000" stroke-width="0.9" fill="none"/>
<path d="M443.0 176.6L449.2 171.8L450.7 177.8Z" fill="#000"/>
<text x="65.4" y="138.8" font-family="Liberation Sans, Arial, sans-serif" font-size="13" text-anchor="middle">s.c.</text>
<text x="432.2" y="141.8" font-family="Liberation Sans, Arial, sans-serif" font-size="13" text-anchor="middle">s.c.</text>
<text x="98.4" y="297.7" font-family="Liberation Sans, Arial, sans-serif" font-size="13.65">S.C. : subcutaneous injection</text>
<text x="339" y="356.5" font-family="Liberation Sans, Arial, sans-serif" font-size="14.6" font-weight="bold" text-anchor="middle">Time (day)</text>
<text transform="translate(35.2 237.5) rotate(-90)" font-family="Liberation Sans, Arial, sans-serif" font-size="14.8" font-weight="bold" text-anchor="middle">Fluorescent int./area</text>
<text x="11" y="179.4" font-family="Liberation Sans, Arial, sans-serif" font-size="13">(f)</text>
<path d="M624 184.6H644.7" stroke="#0a3cff" stroke-width="1.45"/>
<circle cx="634.3" cy="184.6" r="2.10" fill="#0a3cff"/>
<text x="655.2" y="190.0" font-family="Liberation Sans, Arial, sans-serif" font-size="15">1</text>
<path d="M624 210.7H644.7" stroke="#ff2a12" stroke-width="1.45"/>
<rect x="632.3" y="208.7" width="4.0" height="4.0" fill="#ff2a12"/>
<text x="655.2" y="216.1" font-family="Liberation Sans, Arial, sans-serif" font-size="15">2</text>
<path d="M624 236.8H644.7" stroke="#17c41b" stroke-width="1.45"/>
<path d="M634.3 234.4L636.7 238.7L631.9 238.7Z" fill="#17c41b"/>
<text x="655.2" y="242.2" font-family="Liberation Sans, Arial, sans-serif" font-size="15">3</text>
<path d="M624 262.9H644.7" stroke="#bf4dff" stroke-width="1.45"/>
<path d="M634.3 265.3L636.7 261.0L631.9 261.0Z" fill="#bf4dff"/>
<text x="655.2" y="268.3" font-family="Liberation Sans, Arial, sans-serif" font-size="15">4</text>
<path d="M624 289.0H644.7" stroke="#ff9412" stroke-width="1.45"/>
<path d="M634.3 286.6L636.7 289.0L634.3 291.4L631.9 289.0Z" fill="#ff9412"/>
<text x="655.2" y="294.4" font-family="Liberation Sans, Arial, sans-serif" font-size="15">5</text>
</g>
<g id="barg">
<rect x="117.7" y="435.8" width="27.9" height="78.4" fill="#7f7f7f" stroke="#000" stroke-width="2.5"/>
<rect x="164.9" y="464.8" width="27.7" height="49.4" fill="#b2b2b2" stroke="#000" stroke-width="2.5"/>
<path d="M131.5 421.0V448.3M123.2 421.0h16.6M123.2 448.3h16.6" stroke="#000" stroke-width="1.2" fill="none"/>
<path d="M178.8 455.3V472.1M170.5 455.3h16.6M170.5 472.1h16.6" stroke="#000" stroke-width="1.2" fill="none"/>
<circle cx="131.4" cy="417.1" r="1.9" fill="#000"/>
<circle cx="131.4" cy="423.4" r="1.9" fill="#000"/>
<circle cx="131.4" cy="438.5" r="1.9" fill="#000"/>
<circle cx="134.9" cy="445.5" r="1.9" fill="#000"/>
<circle cx="127.5" cy="449.0" r="1.9" fill="#000"/>
<circle cx="171.0" cy="454.2" r="1.9" fill="#000"/>
<circle cx="178.7" cy="455.3" r="1.9" fill="#000"/>
<circle cx="171.7" cy="470.0" r="1.9" fill="#000"/>
<circle cx="178.7" cy="470.7" r="1.9" fill="#000"/>
<circle cx="185.7" cy="470.0" r="1.9" fill="#000"/>
<path d="M100.9 367.4V515.4" stroke="#000" stroke-width="2.4" fill="none"/>
<path d="M99.7 514.2H209.8" stroke="#000" stroke-width="2.5" fill="none"/>
<path d="M92.6 514.2H100.9" stroke="#000" stroke-width="2.4"/>
<text x="89.9" y="519.1" font-family="Liberation Sans, Arial, sans-serif" font-size="14" font-weight="bold" text-anchor="end">0</text>
<path d="M92.6 465.7H100.9" stroke="#000" stroke-width="2.4"/>
<text x="89.9" y="470.6" font-family="Liberation Sans, Arial, sans-serif" font-size="14" font-weight="bold" text-anchor="end">1</text>
<path d="M92.6 417.1H100.9" stroke="#000" stroke-width="2.4"/>
<text x="89.9" y="422.0" font-family="Liberation Sans, Arial, sans-serif" font-size="14" font-weight="bold" text-anchor="end">2</text>
<path d="M92.6 368.6H100.9" stroke="#000" stroke-width="2.4"/>
<text x="89.9" y="373.5" font-family="Liberation Sans, Arial, sans-serif" font-size="14" font-weight="bold" text-anchor="end">3</text>
<path d="M131.5 514.2v8.6" stroke="#000" stroke-width="2.4"/>
<text x="131.5" y="538.5" font-family="Liberation Sans, Arial, sans-serif" font-size="14" font-weight="bold" text-anchor="middle">1</text>
<path d="M178.8 514.2v8.6" stroke="#000" stroke-width="2.4"/>
<text x="178.8" y="538.5" font-family="Liberation Sans, Arial, sans-serif" font-size="14" font-weight="bold" text-anchor="middle">28</text>
<text x="155.2" y="560.4" font-family="Liberation Sans, Arial, sans-serif" font-size="14.6" font-weight="bold" text-anchor="middle">Time (day)</text>
<text transform="translate(71.0 441.4) rotate(-90)" font-family="Liberation Sans, Arial, sans-serif" font-size="14.6" font-weight="bold" text-anchor="middle">Fluorescent int./area</text>
<text x="30.2" y="368.6" font-family="Liberation Sans, Arial, sans-serif" font-size="13.7">(g)</text>
<path d="M131.4 406.8V394.4H178.8V443.4" stroke="#000" stroke-width="1.5" fill="none"/>
<text x="155.1" y="395.9" font-family="Liberation Sans, Arial, sans-serif" font-size="27" font-weight="bold" text-anchor="middle" letter-spacing="0.6">**</text>
</g>
<g id="barh">
<rect x="327.2" y="436.9" width="28.2" height="79.0" fill="#7f7f7f" stroke="#000" stroke-width="2.5"/>
<rect x="373.8" y="429.5" width="28.6" height="86.4" fill="#b2b2b2" stroke="#000" stroke-width="2.5"/>
<path d="M341.1 422.4V449.7M332.8 422.4h16.6M332.8 449.7h16.6" stroke="#000" stroke-width="1.2" fill="none"/>
<path d="M388.0 404.2V452.1M379.7 404.2h16.6M379.7 452.1h16.6" stroke="#000" stroke-width="1.2" fill="none"/>
<circle cx="341.2" cy="418.5" r="1.9" fill="#000"/>
<circle cx="341.2" cy="424.8" r="1.9" fill="#000"/>
<circle cx="341.2" cy="439.9" r="1.9" fill="#000"/>
<circle cx="344.7" cy="446.9" r="1.9" fill="#000"/>
<circle cx="337.4" cy="450.4" r="1.9" fill="#000"/>
<circle cx="388.2" cy="389.8" r="1.9" fill="#000"/>
<circle cx="388.2" cy="421.6" r="1.9" fill="#000"/>
<circle cx="384.0" cy="436.7" r="1.9" fill="#000"/>
<circle cx="391.7" cy="440.9" r="1.9" fill="#000"/>
<circle cx="388.2" cy="451.8" r="1.9" fill="#000"/>
<path d="M310.4 369.0V517.1" stroke="#000" stroke-width="2.4" fill="none"/>
<path d="M309.2 515.9H419.8" stroke="#000" stroke-width="2.5" fill="none"/>
<path d="M302.1 515.9H310.4" stroke="#000" stroke-width="2.4"/>
<text x="299.4" y="520.8" font-family="Liberation Sans, Arial, sans-serif" font-size="14" font-weight="bold" text-anchor="end">0</text>
<path d="M302.1 467.3H310.4" stroke="#000" stroke-width="2.4"/>
<text x="299.4" y="472.2" font-family="Liberation Sans, Arial, sans-serif" font-size="14" font-weight="bold" text-anchor="end">1</text>
<path d="M302.1 418.8H310.4" stroke="#000" stroke-width="2.4"/>
<text x="299.4" y="423.7" font-family="Liberation Sans, Arial, sans-serif" font-size="14" font-weight="bold" text-anchor="end">2</text>
<path d="M302.1 370.2H310.4" stroke="#000" stroke-width="2.4"/>
<text x="299.4" y="375.1" font-family="Liberation Sans, Arial, sans-serif" font-size="14" font-weight="bold" text-anchor="end">3</text>
<path d="M341.1 515.9v8.6" stroke="#000" stroke-width="2.4"/>
<text x="341.1" y="540.2" font-family="Liberation Sans, Arial, sans-serif" font-size="14" font-weight="bold" text-anchor="middle">1</text>
<path d="M388.0 515.9v8.6" stroke="#000" stroke-width="2.4"/>
<text x="388.0" y="540.2" font-family="Liberation Sans, Arial, sans-serif" font-size="14" font-weight="bold" text-anchor="middle">29</text>
<text x="364.6" y="562.1" font-family="Liberation Sans, Arial, sans-serif" font-size="14.6" font-weight="bold" text-anchor="middle">Time (day)</text>
<text transform="translate(280.4 443.0) rotate(-90)" font-family="Liberation Sans, Arial, sans-serif" font-size="14.6" font-weight="bold" text-anchor="middle">Fluorescent int./area</text>
<text x="245.2" y="370.2" font-family="Liberation Sans, Arial, sans-serif" font-size="13.7">(h)</text>
</g>
<g id="bari">
<rect x="536.7" y="464.8" width="28.2" height="49.4" fill="#7f7f7f" stroke="#000" stroke-width="2.5"/>
<rect x="583.6" y="428.1" width="28.2" height="86.1" fill="#b2b2b2" stroke="#000" stroke-width="2.5"/>
<path d="M550.8 455.3V472.1M542.5 455.3h16.6M542.5 472.1h16.6" stroke="#000" stroke-width="1.2" fill="none"/>
<path d="M597.8 402.8V450.8M589.5 402.8h16.6M589.5 450.8h16.6" stroke="#000" stroke-width="1.2" fill="none"/>
<circle cx="543.4" cy="453.9" r="1.9" fill="#000"/>
<circle cx="551.1" cy="455.3" r="1.9" fill="#000"/>
<circle cx="544.1" cy="470.0" r="1.9" fill="#000"/>
<circle cx="551.1" cy="470.7" r="1.9" fill="#000"/>
<circle cx="558.1" cy="470.0" r="1.9" fill="#000"/>
<circle cx="597.7" cy="388.4" r="1.9" fill="#000"/>
<circle cx="597.7" cy="420.2" r="1.9" fill="#000"/>
<circle cx="593.5" cy="435.3" r="1.9" fill="#000"/>
<circle cx="601.5" cy="439.2" r="1.9" fill="#000"/>
<circle cx="597.7" cy="450.4" r="1.9" fill="#000"/>
<path d="M519.9 367.4V515.4" stroke="#000" stroke-width="2.4" fill="none"/>
<path d="M518.7 514.2H629.4" stroke="#000" stroke-width="2.5" fill="none"/>
<path d="M511.6 514.2H519.9" stroke="#000" stroke-width="2.4"/>
<text x="508.9" y="519.1" font-family="Liberation Sans, Arial, sans-serif" font-size="14" font-weight="bold" text-anchor="end">0</text>
<path d="M511.6 465.7H519.9" stroke="#000" stroke-width="2.4"/>
<text x="508.9" y="470.6" font-family="Liberation Sans, Arial, sans-serif" font-size="14" font-weight="bold" text-anchor="end">1</text>
<path d="M511.6 417.1H519.9" stroke="#000" stroke-width="2.4"/>
<text x="508.9" y="422.0" font-family="Liberation Sans, Arial, sans-serif" font-size="14" font-weight="bold" text-anchor="end">2</text>
<path d="M511.6 368.6H519.9" stroke="#000" stroke-width="2.4"/>
<text x="508.9" y="373.5" font-family="Liberation Sans, Arial, sans-serif" font-size="14" font-weight="bold" text-anchor="end">3</text>
<path d="M550.8 514.2v8.6" stroke="#000" stroke-width="2.4"/>
<text x="550.8" y="538.5" font-family="Liberation Sans, Arial, sans-serif" font-size="14" font-weight="bold" text-anchor="middle">28</text>
<path d="M597.8 514.2v8.6" stroke="#000" stroke-width="2.4"/>
<text x="597.8" y="538.5" font-family="Liberation Sans, Arial, sans-serif" font-size="14" font-weight="bold" text-anchor="middle">29</text>
<text x="574.3" y="560.4" font-family="Liberation Sans, Arial, sans-serif" font-size="14.6" font-weight="bold" text-anchor="middle">Time (day)</text>
<text transform="translate(489.9 441.4) rotate(-90)" font-family="Liberation Sans, Arial, sans-serif" font-size="14.6" font-weight="bold" text-anchor="middle">Fluorescent int./area</text>
<text x="453.7" y="368.6" font-family="Liberation Sans, Arial, sans-serif" font-size="13.7">(i)</text>
<path d="M550.8 443.4V365.3H597.8V377.8" stroke="#000" stroke-width="1.5" fill="none"/>
<text x="574.3" y="366.8" font-family="Liberation Sans, Arial, sans-serif" font-size="27" font-weight="bold" text-anchor="middle" letter-spacing="0.6">*</text>
</g>
<defs>
<clipPath id="cj"><rect x="50.4" y="575.4" width="580.5" height="83.6"/></clipPath>
<filter id="spk" color-interpolation-filters="sRGB" filterUnits="userSpaceOnUse" x="40" y="560" width="600" height="380">
 <feTurbulence type="fractalNoise" baseFrequency="0.5" numOctaves="2" seed="11" result="n"/>
 <feColorMatrix in="n" type="matrix" values="0 0 0 0 1  0 0 0 0 1  0 0 0 0 1  0 0 7 0 -3.7" result="m"/>
 <feComposite in="SourceGraphic" in2="m" operator="in"/>
</filter>
<filter id="jb" color-interpolation-filters="sRGB" filterUnits="userSpaceOnUse" x="40" y="560" width="600" height="110"><feGaussianBlur stdDeviation="0.7"/></filter>
<filter id="jb2" color-interpolation-filters="sRGB" filterUnits="userSpaceOnUse" x="40" y="560" width="600" height="110"><feGaussianBlur stdDeviation="1.6"/></filter>
</defs>
<rect x="49.7" y="574.7" width="581.9" height="85.0" fill="#000" stroke="#1b2f58" stroke-width="1.4"/>
<g clip-path="url(#cj)">
<polygon points="114.6,642.8 118.3,641.9 122.0,642.3 124.7,640.3 127.3,640.4 130.0,639.2 132.5,637.9 135.0,638.0 137.5,636.3 140.0,636.4 142.5,634.8 145.0,633.9 147.5,633.7 150.0,633.7 152.5,631.6 155.0,631.2 157.5,631.4 160.0,631.4 162.5,630.0 165.0,629.0 167.5,629.6 170.0,627.1 172.5,628.3 175.0,626.8 177.5,626.2 180.0,625.7 182.5,625.4 185.0,625.6 187.5,623.6 190.0,623.7 192.5,623.4 195.0,622.5 197.5,622.5 200.0,621.1 202.5,620.6 205.0,620.4 207.5,620.9 210.0,619.9 213.2,619.3 216.5,619.5 219.7,619.0 219.7,642.0 200.0,640.0 180.0,639.0 160.0,640.0 140.0,642.0 125.0,643.5" fill="#06061f" filter="url(#jb)"/>
<polygon points="114.6,642.8 118.3,641.9 122.0,642.3 124.7,640.3 127.3,640.4 130.0,639.2 132.5,637.9 135.0,638.0 137.5,636.3 140.0,636.4 142.5,634.8 145.0,633.9 147.5,633.7 150.0,633.7 152.5,631.6 155.0,631.2 157.5,631.4 160.0,631.4 162.5,630.0 165.0,629.0 167.5,629.6 170.0,627.1 172.5,628.3 175.0,626.8 177.5,626.2 180.0,625.7 182.5,625.4 185.0,625.6 187.5,623.6 190.0,623.7 192.5,623.4 195.0,622.5 197.5,622.5 200.0,621.1 202.5,620.6 205.0,620.4 207.5,620.9 210.0,619.9 213.2,619.3 216.5,619.5 219.7,619.0 219.7,642.0 200.0,640.0 180.0,639.0 160.0,640.0 140.0,642.0 125.0,643.5" fill="#2424a0" filter="url(#spk)" opacity=".45"/>
<polyline points="114.6,643.8 118.3,642.9 122.0,643.3 124.7,641.3 127.3,641.4 130.0,640.2 132.5,638.9 135.0,639.0 137.5,637.3 140.0,637.4 142.5,635.8 145.0,634.9 147.5,634.7 150.0,634.7 152.5,632.6 155.0,632.2 157.5,632.4 160.0,632.4 162.5,631.0 165.0,630.0 167.5,630.6 170.0,628.1 172.5,629.3 175.0,627.8 177.5,627.2 180.0,626.7 182.5,626.4 185.0,626.6 187.5,624.6 190.0,624.7 192.5,624.4 195.0,623.5 197.5,623.5 200.0,622.1 202.5,621.6 205.0,621.4 207.5,621.9 210.0,620.9 213.2,620.3 216.5,620.5 219.7,620.0" fill="none" stroke="#3e1f78" stroke-width="3" filter="url(#jb)"/>
<polyline points="114.6,642.5 118.3,641.6 122.0,642.0 124.7,640.0 127.3,640.1 130.0,638.9 132.5,637.6 135.0,637.7 137.5,636.0 140.0,636.1 142.5,634.5 145.0,633.6 147.5,633.4 150.0,633.4 152.5,631.3 155.0,630.9 157.5,631.1 160.0,631.1 162.5,629.7 165.0,628.7 167.5,629.3 170.0,626.8 172.5,628.0 175.0,626.5 177.5,625.9 180.0,625.4 182.5,625.1 185.0,625.3 187.5,623.3 190.0,623.4 192.5,623.1 195.0,622.2 197.5,622.2 200.0,620.8 202.5,620.3 205.0,620.1 207.5,620.6 210.0,619.6 213.2,619.0 216.5,619.2 219.7,618.7" fill="none" stroke="#7a3488" stroke-width="0.9" opacity=".8"/>
<polygon points="219.7,619.0 240.0,620.5 260.0,621.0 280.0,620.5 300.0,620.5 320.0,618.5 340.0,617.5 355.0,618.0 368.8,619.5 368.8,632.0 350.0,634.0 330.0,634.5 315.0,636.0 300.0,634.0 280.0,633.0 260.0,634.0 240.0,636.0 219.7,640.0" fill="#070726" filter="url(#jb)"/>
<polygon points="219.7,619.0 240.0,620.5 260.0,621.0 280.0,620.5 300.0,620.5 320.0,618.5 340.0,617.5 355.0,618.0 368.8,619.5 368.8,632.0 350.0,634.0 330.0,634.5 315.0,636.0 300.0,634.0 280.0,633.0 260.0,634.0 240.0,636.0 219.7,640.0" fill="#2a30b8" filter="url(#spk)" opacity=".6"/>
<path d="M224 640 L300 636 L372 634 L372 646 L300 648 L224 650Z" fill="#2430c0" filter="url(#spk)" opacity=".3"/>
<polyline points="219.7,621.2 240.0,622.7 260.0,623.2 280.0,622.7 300.0,622.7 320.0,620.7 340.0,619.7 355.0,620.2 368.8,621.7" fill="none" stroke="#6a5a30" stroke-width="3.4" filter="url(#jb)"/>
<polyline points="219.7,620.2 240.0,621.7 260.0,622.2 280.0,621.7 300.0,621.7 320.0,619.7 340.0,618.7 355.0,619.2 368.8,620.7" fill="none" stroke="#e8cc62" stroke-width="2.0" filter="url(#jb)"/>
<polyline points="219.7,620.2 240.0,621.7 260.0,622.2 280.0,621.7" fill="none" stroke="#f0a050" stroke-width="2.2" filter="url(#jb)"/>
<polyline points="219.7,620.2 240.0,621.7 260.0,622.2 280.0,621.7" fill="none" stroke="#fff0d8" stroke-width="0.9" />
<polyline points="219.7,618.1 240.0,619.6 260.0,620.1 280.0,619.6 300.0,619.6 320.0,617.6 340.0,616.6 355.0,617.1 368.8,618.6" fill="none" stroke="#d84a18" stroke-width="1.1" opacity=".9"/>
<polygon points="368.8,619.4 371.6,618.7 374.4,618.9 377.2,618.3 380.0,617.1 382.5,617.4 385.0,617.2 387.5,617.5 390.0,617.2 392.5,616.4 395.0,617.2 397.5,615.8 400.0,616.1 402.5,616.4 405.0,615.3 407.5,615.7 410.0,614.9 412.5,616.1 415.0,616.6 417.5,616.7 420.0,617.5 422.5,617.1 425.0,617.9 427.5,618.1 430.0,618.4 432.5,618.6 435.0,619.5 437.5,619.9 440.0,619.5 442.5,620.0 445.0,619.4 447.5,620.5 450.0,620.7 452.5,621.3 455.0,621.1 457.5,620.4 460.0,620.7 462.5,621.2 465.0,620.3 467.5,621.3 470.0,621.2 472.5,621.5 475.0,621.7 477.5,623.0 480.0,622.5 482.5,623.0 485.0,623.6 487.5,624.6 490.0,623.9 492.5,623.3 495.0,622.3 497.5,621.7 500.0,620.4 503.5,618.8 507.0,616.2 509.7,616.7 512.3,617.0 515.0,618.0 517.5,619.0 520.0,618.8 522.5,619.7 525.0,620.6 527.8,621.8 530.5,623.2 533.2,624.5 536.0,625.2 538.8,625.1 541.6,626.0 544.4,626.2 547.2,626.8 550.0,627.6 552.5,627.4 555.0,627.2 557.5,627.4 560.0,627.6 562.5,626.8 565.0,628.1 567.5,628.5 570.0,629.3 572.5,629.8 575.0,630.0 583.0,635.0 591.4,642.5 591.4,643.0 575.0,643.5 560.0,643.0 545.0,641.0 531.0,636.0 520.0,630.0 505.0,627.0 490.0,632.0 470.0,630.0 452.0,630.0 442.0,638.0 425.0,642.5 400.0,643.0 385.0,640.0 374.0,634.0 368.8,630.0" fill="#070728" filter="url(#jb)"/>
<polygon points="368.8,619.4 371.6,618.7 374.4,618.9 377.2,618.3 380.0,617.1 382.5,617.4 385.0,617.2 387.5,617.5 390.0,617.2 392.5,616.4 395.0,617.2 397.5,615.8 400.0,616.1 402.5,616.4 405.0,615.3 407.5,615.7 410.0,614.9 412.5,616.1 415.0,616.6 417.5,616.7 420.0,617.5 422.5,617.1 425.0,617.9 427.5,618.1 430.0,618.4 432.5,618.6 435.0,619.5 437.5,619.9 440.0,619.5 442.5,620.0 445.0,619.4 447.5,620.5 450.0,620.7 452.5,621.3 455.0,621.1 457.5,620.4 460.0,620.7 462.5,621.2 465.0,620.3 467.5,621.3 470.0,621.2 472.5,621.5 475.0,621.7 477.5,623.0 480.0,622.5 482.5,623.0 485.0,623.6 487.5,624.6 490.0,623.9 492.5,623.3 495.0,622.3 497.5,621.7 500.0,620.4 503.5,618.8 507.0,616.2 509.7,616.7 512.3,617.0 515.0,618.0 517.5,619.0 520.0,618.8 522.5,619.7 525.0,620.6 527.8,621.8 530.5,623.2 533.2,624.5 536.0,625.2 538.8,625.1 541.6,626.0 544.4,626.2 547.2,626.8 550.0,627.6 552.5,627.4 555.0,627.2 557.5,627.4 560.0,627.6 562.5,626.8 565.0,628.1 567.5,628.5 570.0,629.3 572.5,629.8 575.0,630.0 583.0,635.0 591.4,642.5 591.4,643.0 575.0,643.5 560.0,643.0 545.0,641.0 531.0,636.0 520.0,630.0 505.0,627.0 490.0,632.0 470.0,630.0 452.0,630.0 442.0,638.0 425.0,642.5 400.0,643.0 385.0,640.0 374.0,634.0 368.8,630.0" fill="#2c34c0" filter="url(#spk)" opacity=".55"/>
<polyline points="368.8,620.6 371.6,619.9 374.4,620.1 377.2,619.5 380.0,618.3 382.5,618.6 385.0,618.4 387.5,618.7 390.0,618.4 392.5,617.6 395.0,618.4 397.5,617.0 400.0,617.3 402.5,617.6 405.0,616.5 407.5,616.9 410.0,616.1 412.5,617.3 415.0,617.8 417.5,617.9 420.0,618.7 422.5,618.3 425.0,619.1 427.5,619.3 430.0,619.6 432.5,619.8 435.0,620.7 437.5,621.1 440.0,620.7 442.5,621.2 445.0,620.6 447.5,621.7 450.0,621.9 452.5,622.5 455.0,622.3 457.5,621.6 460.0,621.9 462.5,622.4 465.0,621.5 467.5,622.5 470.0,622.4 472.5,622.7 475.0,622.9 477.5,624.2 480.0,623.7 482.5,624.2 485.0,624.8 487.5,625.8 490.0,625.1 492.5,624.5 495.0,623.5 497.5,622.9 500.0,621.6 503.5,620.0 507.0,617.4 509.7,617.9 512.3,618.2 515.0,619.2 517.5,620.2 520.0,620.0 522.5,620.9 525.0,621.8 527.8,623.0 530.5,624.4 533.2,625.7 536.0,626.4 538.8,626.3 541.6,627.2 544.4,627.4 547.2,628.0 550.0,628.8 552.5,628.6 555.0,628.4 557.5,628.6 560.0,628.8 562.5,628.0 565.0,629.3 567.5,629.7 570.0,630.5 572.5,631.0" fill="none" stroke="#40208a" stroke-width="3.2" filter="url(#jb)"/>
<polyline points="368.8,619.2 371.6,618.5 374.4,618.7 377.2,618.1 380.0,616.9 382.5,617.2 385.0,617.0 387.5,617.3 390.0,617.0 392.5,616.2 395.0,617.0 397.5,615.6 400.0,615.9 402.5,616.2 405.0,615.1 407.5,615.5 410.0,614.7 412.5,615.9 415.0,616.4 417.5,616.5 420.0,617.3 422.5,616.9 425.0,617.7 427.5,617.9 430.0,618.2 432.5,618.4 435.0,619.3 437.5,619.7 440.0,619.3 442.5,619.8 445.0,619.2 447.5,620.3 450.0,620.5 452.5,621.1 455.0,620.9 457.5,620.2 460.0,620.5 462.5,621.0 465.0,620.1 467.5,621.1 470.0,621.0 472.5,621.3 475.0,621.5 477.5,622.8 480.0,622.3 482.5,622.8 485.0,623.4 487.5,624.4 490.0,623.7 492.5,623.1 495.0,622.1 497.5,621.5 500.0,620.2 503.5,618.6 507.0,616.0 509.7,616.5 512.3,616.8 515.0,617.8 517.5,618.8 520.0,618.6 522.5,619.5 525.0,620.4 527.8,621.6 530.5,623.0 533.2,624.3 536.0,625.0 538.8,624.9 541.6,625.8 544.4,626.0 547.2,626.6 550.0,627.4 552.5,627.2 555.0,627.0 557.5,627.2 560.0,627.4 562.5,626.6 565.0,627.9 567.5,628.3 570.0,629.1 572.5,629.6" fill="none" stroke="#8a3070" stroke-width="0.9" opacity=".85"/>
<ellipse cx="392" cy="633" rx="6" ry="2.2" transform="rotate(-30 392 633)" fill="#2c34c0" filter="url(#jb)" opacity=".7"/>
<ellipse cx="402" cy="637" rx="5" ry="2" transform="rotate(20 402 637)" fill="#2c34c0" filter="url(#jb)" opacity=".7"/>
<ellipse cx="385" cy="638" rx="4" ry="1.8" transform="rotate(10 385 638)" fill="#2c34c0" filter="url(#jb)" opacity=".7"/>
<ellipse cx="410" cy="631" rx="4" ry="1.6" transform="rotate(-50 410 631)" fill="#2c34c0" filter="url(#jb)" opacity=".7"/>
<ellipse cx="420" cy="636" rx="5" ry="1.8" transform="rotate(15 420 636)" fill="#2c34c0" filter="url(#jb)" opacity=".7"/>
<ellipse cx="430" cy="633" rx="4" ry="1.6" transform="rotate(-20 430 633)" fill="#2c34c0" filter="url(#jb)" opacity=".7"/>
<ellipse cx="398" cy="641" rx="5" ry="1.6" transform="rotate(0 398 641)" fill="#2c34c0" filter="url(#jb)" opacity=".7"/>
<ellipse cx="378" cy="632" rx="3" ry="1.4" transform="rotate(40 378 632)" fill="#2c34c0" filter="url(#jb)" opacity=".7"/>
<ellipse cx="436" cy="638" rx="3.5" ry="1.4" transform="rotate(10 436 638)" fill="#2c34c0" filter="url(#jb)" opacity=".7"/>
<polygon points="531.0,627.0 545.0,627.5 560.0,627.5 572.0,629.5 582.0,634.5 591.4,642.8 560.0,643.0 545.0,641.0 533.0,637.0" fill="#0e1670" filter="url(#jb)"/>
<polygon points="531.0,627.0 545.0,627.5 560.0,627.5 572.0,629.5 582.0,634.5 591.4,642.8 560.0,643.0 545.0,641.0 533.0,637.0" fill="#2c3ce0" filter="url(#spk)" opacity=".8"/>
<circle cx="541" cy="633" r="2.2" fill="#02020c" stroke="#2a38d0" stroke-width="0.6"/>
<circle cx="548" cy="636" r="2.6" fill="#02020c" stroke="#2a38d0" stroke-width="0.6"/>
<circle cx="555" cy="632.5" r="2.4" fill="#02020c" stroke="#2a38d0" stroke-width="0.6"/>
<circle cx="562" cy="637" r="2.8" fill="#02020c" stroke="#2a38d0" stroke-width="0.6"/>
<circle cx="569" cy="634" r="2.3" fill="#02020c" stroke="#2a38d0" stroke-width="0.6"/>
<circle cx="575" cy="638.5" r="2.2" fill="#02020c" stroke="#2a38d0" stroke-width="0.6"/>
<circle cx="536" cy="631" r="1.6" fill="#02020c" stroke="#2a38d0" stroke-width="0.6"/>
<circle cx="581" cy="639.5" r="1.5" fill="#02020c" stroke="#2a38d0" stroke-width="0.6"/>
<circle cx="553" cy="639.5" r="1.6" fill="#02020c" stroke="#2a38d0" stroke-width="0.6"/>
<polyline points="536.0,625.5 550.0,627.0 565.0,627.5 575.0,630.0 583.0,635.0 591.4,642.5" fill="none" stroke="#3038d8" stroke-width="1.4" filter="url(#jb)"/>
<circle cx="523.5" cy="604" r=".7" fill="#d02020"/><circle cx="293" cy="640" r="1" fill="#6030a0" opacity=".8"/>
</g>
<text x="62.0" y="589.7" font-family="Liberation Sans, Arial, sans-serif" font-size="13.5" font-weight="bold" fill="#ff0a0a">Human</text>
<text x="62.0" y="606.8" font-family="Liberation Sans, Arial, sans-serif" font-size="13.5" font-weight="bold"><tspan fill="#ff0a0a">mitochondria</tspan><tspan fill="#fff">/</tspan><tspan fill="#10e020">GFP</tspan><tspan fill="#fff">/</tspan><tspan fill="#18a8f0">Hoechst</tspan></text>
<text x="295.2" y="597.1" font-family="Liberation Sans, Arial, sans-serif" font-size="13.2" fill="#fff" text-anchor="middle">i</text>
<path d="M295.2 602.9V614.2" stroke="#fff" stroke-width="1.3"/><path d="M295.2 620.2l-4.1 -7.6h8.2Z" fill="#fff"/>
<text x="412.9" y="590" font-family="Liberation Sans, Arial, sans-serif" font-size="13.2" fill="#fff" text-anchor="middle">ii</text>
<path d="M412.9 596.1V606.5" stroke="#fff" stroke-width="1.3"/><path d="M412.9 612.5l-4.1 -7.6h8.2Z" fill="#fff"/>
<text x="563.8" y="596.8" font-family="Liberation Sans, Arial, sans-serif" font-size="13.2" fill="#fff" text-anchor="middle">iii</text>
<path d="M563.8 606V615.8" stroke="#fff" stroke-width="1.3"/><path d="M563.8 621.8l-4.1 -7.6h8.2Z" fill="#fff"/>
<text x="514.8" y="646.7" font-family="Liberation Sans, Arial, sans-serif" font-size="13.2" fill="#fff" text-anchor="middle">500 μm</text>
<rect x="503.4" y="651.7" width="16.6" height="2.2" fill="#fff"/>
<text x="31.5" y="594" font-family="Liberation Sans, Arial, sans-serif" font-size="13">(j)</text>
<defs>
<filter id="kb1" color-interpolation-filters="sRGB" filterUnits="userSpaceOnUse" x="40" y="660" width="620" height="290"><feGaussianBlur stdDeviation="0.8"/></filter>
<filter id="kb2" color-interpolation-filters="sRGB" filterUnits="userSpaceOnUse" x="40" y="660" width="620" height="290"><feGaussianBlur stdDeviation="1.8"/></filter>
<filter id="kb4" color-interpolation-filters="sRGB" filterUnits="userSpaceOnUse" x="40" y="660" width="620" height="290"><feGaussianBlur stdDeviation="4"/></filter>
<filter id="wtex" color-interpolation-filters="sRGB" filterUnits="userSpaceOnUse" x="40" y="660" width="620" height="290">
 <feTurbulence type="fractalNoise" baseFrequency="0.16 0.3" numOctaves="3" seed="3" result="n"/>
 <feColorMatrix in="n" type="matrix" values="0 0 0 0 1  0 0 0 0 0.9  0 0 0 0 0.88  3.4 0 0 0 -1.75" result="w"/>
 <feComposite in="w" in2="SourceGraphic" operator="in" result="wi"/>
 <feMerge><feMergeNode in="SourceGraphic"/><feMergeNode in="wi"/></feMerge>
</filter>
<filter id="ptex" color-interpolation-filters="sRGB" filterUnits="userSpaceOnUse" x="40" y="660" width="620" height="290">
 <feTurbulence type="fractalNoise" baseFrequency="0.16 0.22" numOctaves="2" seed="8" result="n"/>
 <feColorMatrix in="n" type="matrix" values="0 0 0 0 0.86  0 0 0 0 0.5  0 0 0 0 0.6  0 3 0 0 -1.45" result="w"/>
 <feComposite in="w" in2="SourceGraphic" operator="in"/>
</filter>
<filter id="dots" color-interpolation-filters="sRGB" filterUnits="userSpaceOnUse" x="40" y="790" width="620" height="150">
 <feTurbulence type="fractalNoise" baseFrequency="0.42" numOctaves="2" seed="21" result="n"/>
 <feColorMatrix in="n" type="matrix" values="0 0 0 0 1  0 0 0 0 1  0 0 0 0 1  0 0 9 0 -5.6" result="m0"/>
 <feGaussianBlur in="m0" stdDeviation="0.45" result="m"/>
 <feComposite in="SourceGraphic" in2="m" operator="in"/>
</filter>
<filter id="dots2" color-interpolation-filters="sRGB" filterUnits="userSpaceOnUse" x="40" y="790" width="620" height="150">
 <feTurbulence type="fractalNoise" baseFrequency="0.5" numOctaves="2" seed="33" result="n"/>
 <feColorMatrix in="n" type="matrix" values="0 0 0 0 1  0 0 0 0 1  0 0 0 0 1  0 9 0 0 -6.0" result="m0"/>
 <feGaussianBlur in="m0" stdDeviation="0.45" result="m"/>
 <feComposite in="SourceGraphic" in2="m" operator="in"/>
</filter>
<filter id="dense" color-interpolation-filters="sRGB" filterUnits="userSpaceOnUse" x="40" y="790" width="620" height="150">
 <feTurbulence type="fractalNoise" baseFrequency="0.45" numOctaves="2" seed="5" result="n"/>
 <feColorMatrix in="n" type="matrix" values="0 0 0 0 1  0 0 0 0 1  0 0 0 0 1  7 0 0 0 -3.5" result="m"/>
 <feComposite in="SourceGraphic" in2="m" operator="in"/>
</filter>
<filter id="gtex" color-interpolation-filters="sRGB" filterUnits="userSpaceOnUse" x="40" y="790" width="620" height="150">
 <feTurbulence type="fractalNoise" baseFrequency="0.55" numOctaves="2" seed="9" result="n"/>
 <feColorMatrix in="n" type="matrix" values="0 0 0 0 0.12  0 0 0 0 0.25  0 0 0 0 0.85  4 0 0 0 -2.0" result="w"/>
 <feComposite in="w" in2="SourceGraphic" operator="in" result="wi"/>
 <feMerge><feMergeNode in="SourceGraphic"/><feMergeNode in="wi"/></feMerge>
</filter>
<clipPath id="ck1"><rect x="92.5" y="670.5" width="171.5" height="129.2"/></clipPath>
<clipPath id="ck2"><rect x="275.5" y="670.5" width="171.6" height="129.2"/></clipPath>
<clipPath id="ck3"><rect x="460.5" y="670.5" width="171.6" height="129.2"/></clipPath>
<clipPath id="cf1"><rect x="92.9" y="805" width="170.9" height="127.4"/></clipPath>
<clipPath id="cf2"><rect x="277.55" y="805" width="170.35" height="127.4"/></clipPath>
<clipPath id="cf3"><rect x="461.2" y="805" width="170.6" height="127.4"/></clipPath>
<linearGradient id="fdens" x1="0" y1="805" x2="0" y2="934" gradientUnits="userSpaceOnUse">
 <stop offset="0.3" stop-color="#2230d0" stop-opacity="1"/><stop offset="0.7" stop-color="#2230d0" stop-opacity=".7"/><stop offset="1" stop-color="#2230d0" stop-opacity=".3"/></linearGradient>
</defs>
<g clip-path="url(#ck1)">
<rect x="92" y="670" width="174" height="131" fill="#eaf8fa"/>
<polygon points="92.0,745.0 125.0,742.0 180.0,754.0 215.0,762.0 265.0,758.0 265.0,801.0 150.0,801.0 92.0,778.0" fill="#f4e0e9" filter="url(#kb1)"/>
<ellipse cx="219.4" cy="789.0" rx="8.2" ry="7.5" transform="rotate(-4 219.4 789.0)" fill="#f1fafc" stroke="#e8b8cc" stroke-width="0.55"/>
<ellipse cx="172.7" cy="796.2" rx="4.7" ry="3.3" transform="rotate(38 172.7 796.2)" fill="#f1fafc" stroke="#e8b8cc" stroke-width="0.55"/>
<ellipse cx="135.7" cy="776.6" rx="7.3" ry="5.8" transform="rotate(33 135.7 776.6)" fill="#f1fafc" stroke="#e8b8cc" stroke-width="0.55"/>
<ellipse cx="96.2" cy="760.6" rx="7.9" ry="7.3" transform="rotate(40 96.2 760.6)" fill="#f1fafc" stroke="#e8b8cc" stroke-width="0.55"/>
<ellipse cx="248.9" cy="787.5" rx="6.2" ry="5.0" transform="rotate(8 248.9 787.5)" fill="#f1fafc" stroke="#e8b8cc" stroke-width="0.55"/>
<ellipse cx="115.4" cy="750.1" rx="8.2" ry="6.0" transform="rotate(4 115.4 750.1)" fill="#f1fafc" stroke="#e8b8cc" stroke-width="0.55"/>
<ellipse cx="129.4" cy="760.6" rx="9.7" ry="9.0" transform="rotate(16 129.4 760.6)" fill="#f1fafc" stroke="#e8b8cc" stroke-width="0.55"/>
<ellipse cx="241.4" cy="764.2" rx="10.4" ry="7.0" transform="rotate(-24 241.4 764.2)" fill="#f1fafc" stroke="#e8b8cc" stroke-width="0.55"/>
<ellipse cx="185.1" cy="783.2" rx="10.3" ry="9.6" transform="rotate(-16 185.1 783.2)" fill="#f1fafc" stroke="#e8b8cc" stroke-width="0.55"/>
<ellipse cx="208.6" cy="766.6" rx="4.5" ry="3.7" transform="rotate(-17 208.6 766.6)" fill="#f1fafc" stroke="#e8b8cc" stroke-width="0.55"/>
<ellipse cx="155.9" cy="778.3" rx="9.2" ry="8.5" transform="rotate(28 155.9 778.3)" fill="#f1fafc" stroke="#e8b8cc" stroke-width="0.55"/>
<ellipse cx="100.2" cy="796.3" rx="9.7" ry="7.2" transform="rotate(18 100.2 796.3)" fill="#f1fafc" stroke="#e8b8cc" stroke-width="0.55"/>
<ellipse cx="151.5" cy="795.3" rx="10.0" ry="8.4" transform="rotate(-32 151.5 795.3)" fill="#f1fafc" stroke="#e8b8cc" stroke-width="0.55"/>
<ellipse cx="146.8" cy="765.5" rx="7.8" ry="5.7" transform="rotate(11 146.8 765.5)" fill="#f1fafc" stroke="#e8b8cc" stroke-width="0.55"/>
<ellipse cx="260.8" cy="776.1" rx="4.8" ry="4.2" transform="rotate(4 260.8 776.1)" fill="#f1fafc" stroke="#e8b8cc" stroke-width="0.55"/>
<ellipse cx="171.0" cy="770.7" rx="9.5" ry="7.9" transform="rotate(-17 171.0 770.7)" fill="#f1fafc" stroke="#e8b8cc" stroke-width="0.55"/>
<ellipse cx="112.0" cy="771.3" rx="9.2" ry="6.6" transform="rotate(9 112.0 771.3)" fill="#f1fafc" stroke="#e8b8cc" stroke-width="0.55"/>
<ellipse cx="262.9" cy="791.8" rx="7.2" ry="5.6" transform="rotate(-38 262.9 791.8)" fill="#f1fafc" stroke="#e8b8cc" stroke-width="0.55"/>
<ellipse cx="96.0" cy="776.8" rx="8.0" ry="7.0" transform="rotate(35 96.0 776.8)" fill="#f1fafc" stroke="#e8b8cc" stroke-width="0.55"/>
<ellipse cx="203.4" cy="789.1" rx="9.4" ry="8.8" transform="rotate(10 203.4 789.1)" fill="#f1fafc" stroke="#e8b8cc" stroke-width="0.55"/>
<ellipse cx="235.4" cy="795.9" rx="5.5" ry="4.2" transform="rotate(7 235.4 795.9)" fill="#f1fafc" stroke="#e8b8cc" stroke-width="0.55"/>
<ellipse cx="123.0" cy="788.2" rx="8.9" ry="7.0" transform="rotate(15 123.0 788.2)" fill="#f1fafc" stroke="#e8b8cc" stroke-width="0.55"/>
<ellipse cx="199.1" cy="771.7" rx="5.2" ry="4.1" transform="rotate(-32 199.1 771.7)" fill="#f1fafc" stroke="#e8b8cc" stroke-width="0.55"/>
<ellipse cx="184.0" cy="763.4" rx="4.6" ry="4.2" transform="rotate(-14 184.0 763.4)" fill="#f1fafc" stroke="#e8b8cc" stroke-width="0.55"/>
<ellipse cx="222.5" cy="764.7" rx="5.2" ry="4.4" transform="rotate(-15 222.5 764.7)" fill="#f1fafc" stroke="#e8b8cc" stroke-width="0.55"/>
<ellipse cx="194.4" cy="761.7" rx="5.2" ry="3.7" transform="rotate(-33 194.4 761.7)" fill="#f1fafc" stroke="#e8b8cc" stroke-width="0.55"/>
<ellipse cx="159.2" cy="756.7" rx="6.6" ry="5.8" transform="rotate(-16 159.2 756.7)" fill="#f1fafc" stroke="#e8b8cc" stroke-width="0.55"/>
<ellipse cx="172.7" cy="754.9" rx="7.1" ry="5.5" transform="rotate(-23 172.7 754.9)" fill="#f1fafc" stroke="#e8b8cc" stroke-width="0.55"/>
<ellipse cx="110.7" cy="785.2" rx="5.5" ry="4.5" transform="rotate(-13 110.7 785.2)" fill="#f1fafc" stroke="#e8b8cc" stroke-width="0.55"/>
<ellipse cx="130.9" cy="797.7" rx="4.8" ry="3.3" transform="rotate(17 130.9 797.7)" fill="#f1fafc" stroke="#e8b8cc" stroke-width="0.55"/>
<ellipse cx="181.6" cy="797.8" rx="5.4" ry="4.1" transform="rotate(14 181.6 797.8)" fill="#f1fafc" stroke="#e8b8cc" stroke-width="0.55"/>
<ellipse cx="169.8" cy="786.1" rx="5.0" ry="3.9" transform="rotate(-4 169.8 786.1)" fill="#f1fafc" stroke="#e8b8cc" stroke-width="0.55"/>
<ellipse cx="257.5" cy="762.9" rx="5.4" ry="3.7" transform="rotate(36 257.5 762.9)" fill="#f1fafc" stroke="#e8b8cc" stroke-width="0.55"/>
<ellipse cx="234.1" cy="780.7" rx="6.1" ry="4.5" transform="rotate(-16 234.1 780.7)" fill="#f1fafc" stroke="#e8b8cc" stroke-width="0.55"/>
<ellipse cx="219.0" cy="777.5" rx="4.8" ry="4.3" transform="rotate(-3 219.0 777.5)" fill="#f1fafc" stroke="#e8b8cc" stroke-width="0.55"/>
<ellipse cx="141.7" cy="751.8" rx="7.9" ry="5.7" transform="rotate(-12 141.7 751.8)" fill="#f1fafc" stroke="#e8b8cc" stroke-width="0.55"/>
<ellipse cx="244.2" cy="795.9" rx="4.8" ry="3.5" transform="rotate(6 244.2 795.9)" fill="#f1fafc" stroke="#e8b8cc" stroke-width="0.55"/>
<ellipse cx="208.9" cy="775.6" rx="5.5" ry="5.1" transform="rotate(3 208.9 775.6)" fill="#f1fafc" stroke="#e8b8cc" stroke-width="0.55"/>
<ellipse cx="212.5" cy="798.5" rx="4.9" ry="4.5" transform="rotate(-23 212.5 798.5)" fill="#f1fafc" stroke="#e8b8cc" stroke-width="0.55"/>
<ellipse cx="144.5" cy="784.8" rx="4.5" ry="4.0" transform="rotate(12 144.5 784.8)" fill="#f1fafc" stroke="#e8b8cc" stroke-width="0.55"/>
<ellipse cx="193.6" cy="798.4" rx="5.3" ry="4.4" transform="rotate(-40 193.6 798.4)" fill="#f1fafc" stroke="#e8b8cc" stroke-width="0.55"/>
<ellipse cx="114.6" cy="796.7" rx="4.5" ry="4.2" transform="rotate(-36 114.6 796.7)" fill="#f1fafc" stroke="#e8b8cc" stroke-width="0.55"/>
<ellipse cx="138.0" cy="792.2" rx="4.9" ry="4.2" transform="rotate(-37 138.0 792.2)" fill="#f1fafc" stroke="#e8b8cc" stroke-width="0.55"/>
<ellipse cx="190.0" cy="769.1" rx="4.6" ry="3.0" transform="rotate(-29 190.0 769.1)" fill="#f1fafc" stroke="#e8b8cc" stroke-width="0.55"/>
<path d="M92 776 L130 780 L160 788 L185 795 L200 801 L92 801Z" fill="#e9f9fb" filter="url(#kb2)"/>
<path d="M178 781 L215 779 L265 774 L265 801 L200 801Z" fill="#ecbcd0" filter="url(#kb2)" opacity=".85"/>
<polygon points="92.0,700.0 265.0,703.0 265.0,759.0 245.0,760.0 225.0,763.0 205.0,764.0 185.0,759.0 165.0,754.0 150.0,752.0 135.0,751.0 128.0,752.0 124.0,743.0 116.0,749.0 92.0,747.0" fill="#ee9874" filter="url(#wtex)"/>
<path d="M92 699 L265 702 L265 716 L92 714Z" fill="#f0a09a" filter="url(#kb2)" opacity=".9"/>
<ellipse cx="104" cy="716" rx="13" ry="12" fill="#f4b2a2" filter="url(#kb2)" opacity=".8"/>
<path d="M150 742 L265 738 L265 758 L225 762 L190 758 L165 752Z" fill="#e97e48" filter="url(#kb2)" opacity=".6"/>
<polygon points="91.0,686.3 178.0,687.6 266.0,689.2 266.0,709.9 264.5,710.0 263.0,709.4 261.5,708.2 260.0,706.5 258.5,704.2 257.0,706.2 255.5,707.8 254.0,708.9 252.5,709.5 251.0,709.4 249.5,708.6 248.0,707.3 246.5,705.4 245.0,703.1 243.5,704.1 242.0,706.6 240.5,708.5 239.0,709.8 237.5,710.5 236.0,710.3 234.5,709.5 233.0,707.9 231.5,705.7 230.0,703.0 228.5,704.9 227.0,706.5 225.5,707.7 224.0,708.4 222.5,708.5 221.0,708.0 219.5,706.9 218.0,705.4 216.5,703.4 215.0,702.3 213.5,704.4 212.0,708.1 210.5,711.0 209.0,713.0 207.5,713.9 206.0,713.7 204.5,712.4 203.0,710.1 201.5,706.9 200.0,702.8 198.5,702.0 197.0,702.6 195.5,705.8 194.0,708.4 192.5,710.2 191.0,711.3 189.5,711.4 188.0,710.7 186.5,709.1 185.0,706.7 183.5,703.6 182.0,703.0 180.5,704.3 179.0,705.2 177.5,705.8 176.0,706.0 174.5,705.8 173.0,705.2 171.5,704.2 170.0,702.9 168.5,706.4 167.0,709.6 165.5,711.9 164.0,713.2 162.5,713.4 161.0,712.5 159.5,710.4 158.0,707.5 156.5,703.6 155.0,704.7 153.5,706.3 152.0,707.4 150.5,708.0 149.0,707.9 147.5,707.1 146.0,705.8 144.5,704.0 143.0,701.6 141.5,703.2 140.0,706.6 138.5,709.3 137.0,711.1 135.5,711.9 134.0,711.8 132.5,710.6 131.0,708.4 129.5,705.4 128.0,701.7 126.5,701.0 125.0,702.5 123.5,703.9 122.0,705.0 120.5,705.8 119.0,706.0 117.5,705.8 116.0,705.0 114.5,703.9 113.0,702.3 111.5,700.8 110.0,703.6 108.5,706.5 107.0,708.7 105.5,710.0 104.0,710.5 102.5,710.0 101.0,708.6 99.5,706.4 98.0,703.5 96.5,700.6 95.0,700.5 93.5,700.5 92.0,700.5" fill="#d07a90" filter="url(#kb1)"/>
<polygon points="91.0,686.3 178.0,687.6 266.0,689.2 266.0,709.9 264.5,710.0 263.0,709.4 261.5,708.2 260.0,706.5 258.5,704.2 257.0,706.2 255.5,707.8 254.0,708.9 252.5,709.5 251.0,709.4 249.5,708.6 248.0,707.3 246.5,705.4 245.0,703.1 243.5,704.1 242.0,706.6 240.5,708.5 239.0,709.8 237.5,710.5 236.0,710.3 234.5,709.5 233.0,707.9 231.5,705.7 230.0,703.0 228.5,704.9 227.0,706.5 225.5,707.7 224.0,708.4 222.5,708.5 221.0,708.0 219.5,706.9 218.0,705.4 216.5,703.4 215.0,702.3 213.5,704.4 212.0,708.1 210.5,711.0 209.0,713.0 207.5,713.9 206.0,713.7 204.5,712.4 203.0,710.1 201.5,706.9 200.0,702.8 198.5,702.0 197.0,702.6 195.5,705.8 194.0,708.4 192.5,710.2 191.0,711.3 189.5,711.4 188.0,710.7 186.5,709.1 185.0,706.7 183.5,703.6 182.0,703.0 180.5,704.3 179.0,705.2 177.5,705.8 176.0,706.0 174.5,705.8 173.0,705.2 171.5,704.2 170.0,702.9 168.5,706.4 167.0,709.6 165.5,711.9 164.0,713.2 162.5,713.4 161.0,712.5 159.5,710.4 158.0,707.5 156.5,703.6 155.0,704.7 153.5,706.3 152.0,707.4 150.5,708.0 149.0,707.9 147.5,707.1 146.0,705.8 144.5,704.0 143.0,701.6 141.5,703.2 140.0,706.6 138.5,709.3 137.0,711.1 135.5,711.9 134.0,711.8 132.5,710.6 131.0,708.4 129.5,705.4 128.0,701.7 126.5,701.0 125.0,702.5 123.5,703.9 122.0,705.0 120.5,705.8 119.0,706.0 117.5,705.8 116.0,705.0 114.5,703.9 113.0,702.3 111.5,700.8 110.0,703.6 108.5,706.5 107.0,708.7 105.5,710.0 104.0,710.5 102.5,710.0 101.0,708.6 99.5,706.4 98.0,703.5 96.5,700.6 95.0,700.5 93.5,700.5 92.0,700.5" fill="#b85c80" filter="url(#ptex)" opacity=".25"/>
<path d="M91 687 L266 690 L266 695 L91 692.5Z" fill="#cc6c8c" filter="url(#kb1)" opacity=".6"/>
<polygon points="91.0,673.8 178.0,676.6 266.0,680.6 266.0,689.2 178.0,687.6 91.0,686.3" fill="#e9825a"/>
<ellipse cx="94.2" cy="678.6" rx="1.7" ry="0.8" fill="#fbe8de" opacity=".9"/>
<ellipse cx="100.5" cy="679.2" rx="1.4" ry="0.8" fill="#fbe8de" opacity=".9"/>
<ellipse cx="109.9" cy="680.1" rx="2.2" ry="0.8" fill="#fbe8de" opacity=".9"/>
<ellipse cx="114.5" cy="679.5" rx="1.3" ry="0.8" fill="#fbe8de" opacity=".9"/>
<ellipse cx="121.9" cy="680.3" rx="1.8" ry="0.8" fill="#fbe8de" opacity=".9"/>
<ellipse cx="129.8" cy="680.4" rx="2.0" ry="0.8" fill="#fbe8de" opacity=".9"/>
<ellipse cx="134.1" cy="679.5" rx="1.8" ry="0.8" fill="#fbe8de" opacity=".9"/>
<ellipse cx="143.2" cy="680.1" rx="2.3" ry="0.8" fill="#fbe8de" opacity=".9"/>
<ellipse cx="148.9" cy="681.0" rx="1.6" ry="0.8" fill="#fbe8de" opacity=".9"/>
<ellipse cx="155.9" cy="681.8" rx="1.4" ry="0.8" fill="#fbe8de" opacity=".9"/>
<ellipse cx="158.8" cy="680.4" rx="1.8" ry="0.8" fill="#fbe8de" opacity=".9"/>
<ellipse cx="167.1" cy="681.6" rx="2.1" ry="0.8" fill="#fbe8de" opacity=".9"/>
<ellipse cx="171.7" cy="681.7" rx="1.9" ry="0.8" fill="#fbe8de" opacity=".9"/>
<ellipse cx="179.4" cy="681.9" rx="1.3" ry="0.8" fill="#fbe8de" opacity=".9"/>
<ellipse cx="186.5" cy="681.8" rx="1.3" ry="0.8" fill="#fbe8de" opacity=".9"/>
<ellipse cx="194.7" cy="681.5" rx="2.0" ry="0.8" fill="#fbe8de" opacity=".9"/>
<ellipse cx="198.7" cy="682.2" rx="1.3" ry="0.8" fill="#fbe8de" opacity=".9"/>
<ellipse cx="206.8" cy="681.5" rx="1.7" ry="0.8" fill="#fbe8de" opacity=".9"/>
<ellipse cx="215.2" cy="681.7" rx="1.6" ry="0.8" fill="#fbe8de" opacity=".9"/>
<ellipse cx="221.5" cy="682.1" rx="1.5" ry="0.8" fill="#fbe8de" opacity=".9"/>
<ellipse cx="227.4" cy="682.1" rx="1.2" ry="0.8" fill="#fbe8de" opacity=".9"/>
<ellipse cx="234.9" cy="682.5" rx="1.5" ry="0.8" fill="#fbe8de" opacity=".9"/>
<ellipse cx="241.9" cy="683.8" rx="1.6" ry="0.8" fill="#fbe8de" opacity=".9"/>
<ellipse cx="246.7" cy="683.3" rx="2.1" ry="0.8" fill="#fbe8de" opacity=".9"/>
<ellipse cx="251.7" cy="682.6" rx="2.1" ry="0.8" fill="#fbe8de" opacity=".9"/>
<ellipse cx="260.6" cy="683.9" rx="1.6" ry="0.8" fill="#fbe8de" opacity=".9"/>
<ellipse cx="93.4" cy="682.5" rx="2.1" ry="0.8" fill="#fbe8de" opacity=".9"/>
<ellipse cx="103.1" cy="681.3" rx="2.2" ry="0.8" fill="#fbe8de" opacity=".9"/>
<ellipse cx="107.6" cy="682.6" rx="2.0" ry="0.8" fill="#fbe8de" opacity=".9"/>
<ellipse cx="115.9" cy="682.4" rx="1.4" ry="0.8" fill="#fbe8de" opacity=".9"/>
<ellipse cx="122.7" cy="681.7" rx="2.1" ry="0.8" fill="#fbe8de" opacity=".9"/>
<ellipse cx="127.0" cy="682.7" rx="1.7" ry="0.8" fill="#fbe8de" opacity=".9"/>
<ellipse cx="135.9" cy="683.3" rx="1.4" ry="0.8" fill="#fbe8de" opacity=".9"/>
<ellipse cx="143.3" cy="683.6" rx="1.5" ry="0.8" fill="#fbe8de" opacity=".9"/>
<ellipse cx="150.0" cy="682.5" rx="1.8" ry="0.8" fill="#fbe8de" opacity=".9"/>
<ellipse cx="156.4" cy="682.8" rx="2.1" ry="0.8" fill="#fbe8de" opacity=".9"/>
<ellipse cx="163.2" cy="683.7" rx="2.1" ry="0.8" fill="#fbe8de" opacity=".9"/>
<ellipse cx="168.3" cy="684.4" rx="1.9" ry="0.8" fill="#fbe8de" opacity=".9"/>
<ellipse cx="173.3" cy="684.7" rx="1.3" ry="0.8" fill="#fbe8de" opacity=".9"/>
<ellipse cx="183.0" cy="684.9" rx="1.7" ry="0.8" fill="#fbe8de" opacity=".9"/>
<ellipse cx="186.4" cy="684.0" rx="1.5" ry="0.8" fill="#fbe8de" opacity=".9"/>
<ellipse cx="192.7" cy="684.4" rx="1.8" ry="0.8" fill="#fbe8de" opacity=".9"/>
<ellipse cx="201.9" cy="684.7" rx="1.8" ry="0.8" fill="#fbe8de" opacity=".9"/>
<ellipse cx="207.9" cy="684.6" rx="2.1" ry="0.8" fill="#fbe8de" opacity=".9"/>
<ellipse cx="216.3" cy="685.3" rx="1.4" ry="0.8" fill="#fbe8de" opacity=".9"/>
<ellipse cx="220.1" cy="684.8" rx="2.3" ry="0.8" fill="#fbe8de" opacity=".9"/>
<ellipse cx="226.2" cy="684.9" rx="1.4" ry="0.8" fill="#fbe8de" opacity=".9"/>
<ellipse cx="234.2" cy="686.2" rx="1.9" ry="0.8" fill="#fbe8de" opacity=".9"/>
<ellipse cx="238.6" cy="686.0" rx="2.3" ry="0.8" fill="#fbe8de" opacity=".9"/>
<ellipse cx="249.0" cy="686.0" rx="1.5" ry="0.8" fill="#fbe8de" opacity=".9"/>
<ellipse cx="252.0" cy="686.1" rx="1.8" ry="0.8" fill="#fbe8de" opacity=".9"/>
<ellipse cx="260.6" cy="686.6" rx="1.4" ry="0.8" fill="#fbe8de" opacity=".9"/>
<path d="M91 686.4 L178 687.7 L266 689.3" stroke="#a34a66" stroke-width="1" fill="none" opacity=".9"/>
<path d="M91 674 L178 676.8 L266 680.8" stroke="#e07a5a" stroke-width="1" fill="none" opacity=".9"/>
<path d="M216 677.5 L246 671" stroke="#e48a98" stroke-width="0.9"/>
<ellipse cx="180.8" cy="792.4" rx="2.4" ry="2" fill="#6e2444"/>
<ellipse cx="241.5" cy="792" rx="5.5" ry="2.6" fill="#e2703c" filter="url(#kb1)"/>
</g>
<rect x="92.0" y="670.0" width="172.55" height="130.15" fill="none" stroke="#000" stroke-width="2.05"/>
<text x="100.6" y="684.2" font-family="Liberation Sans, Arial, sans-serif" font-size="13.2" fill="#000" text-anchor="start">i</text>
<text x="234.8" y="788.2" font-family="Liberation Sans, Arial, sans-serif" font-size="13.2" fill="#000" text-anchor="middle">100 μm</text>
<rect x="226" y="793.9" width="19.8" height="2.1"/>
<g clip-path="url(#ck2)">
<rect x="275" y="670" width="174" height="131" fill="#eef8fb"/>
<rect x="275" y="670" width="174" height="40" fill="#e4f9fa"/>
<ellipse cx="383.8" cy="797.1" rx="6.6" ry="5.9" transform="rotate(-15 383.8 797.1)" fill="#f1fbfd" stroke="#ecc4d6" stroke-width="0.55"/>
<ellipse cx="383.6" cy="768.9" rx="9.3" ry="8.2" transform="rotate(28 383.6 768.9)" fill="#f1fbfd" stroke="#ecc4d6" stroke-width="0.55"/>
<ellipse cx="409.8" cy="776.6" rx="7.5" ry="6.0" transform="rotate(-33 409.8 776.6)" fill="#f1fbfd" stroke="#ecc4d6" stroke-width="0.55"/>
<ellipse cx="353.0" cy="772.8" rx="8.4" ry="6.0" transform="rotate(25 353.0 772.8)" fill="#f1fbfd" stroke="#ecc4d6" stroke-width="0.55"/>
<ellipse cx="372.6" cy="759.3" rx="7.7" ry="5.0" transform="rotate(33 372.6 759.3)" fill="#f1fbfd" stroke="#ecc4d6" stroke-width="0.55"/>
<ellipse cx="439.7" cy="787.1" rx="7.5" ry="5.5" transform="rotate(28 439.7 787.1)" fill="#f1fbfd" stroke="#ecc4d6" stroke-width="0.55"/>
<ellipse cx="313.3" cy="778.2" rx="5.9" ry="4.5" transform="rotate(1 313.3 778.2)" fill="#f1fbfd" stroke="#ecc4d6" stroke-width="0.55"/>
<ellipse cx="440.7" cy="738.8" rx="6.0" ry="4.4" transform="rotate(6 440.7 738.8)" fill="#f1fbfd" stroke="#ecc4d6" stroke-width="0.55"/>
<ellipse cx="317.9" cy="765.8" rx="7.9" ry="6.7" transform="rotate(16 317.9 765.8)" fill="#f1fbfd" stroke="#ecc4d6" stroke-width="0.55"/>
<ellipse cx="373.7" cy="741.4" rx="6.3" ry="5.4" transform="rotate(-0 373.7 741.4)" fill="#f1fbfd" stroke="#ecc4d6" stroke-width="0.55"/>
<ellipse cx="358.9" cy="786.1" rx="5.5" ry="3.7" transform="rotate(27 358.9 786.1)" fill="#f1fbfd" stroke="#ecc4d6" stroke-width="0.55"/>
<ellipse cx="430.4" cy="778.1" rx="6.3" ry="5.8" transform="rotate(-21 430.4 778.1)" fill="#f1fbfd" stroke="#ecc4d6" stroke-width="0.55"/>
<ellipse cx="346.1" cy="788.7" rx="6.4" ry="5.8" transform="rotate(-13 346.1 788.7)" fill="#f1fbfd" stroke="#ecc4d6" stroke-width="0.55"/>
<ellipse cx="313.4" cy="793.5" rx="7.7" ry="5.8" transform="rotate(35 313.4 793.5)" fill="#f1fbfd" stroke="#ecc4d6" stroke-width="0.55"/>
<ellipse cx="434.8" cy="759.9" rx="8.3" ry="6.2" transform="rotate(-1 434.8 759.9)" fill="#f1fbfd" stroke="#ecc4d6" stroke-width="0.55"/>
<ellipse cx="305.0" cy="770.5" rx="4.9" ry="3.4" transform="rotate(-31 305.0 770.5)" fill="#f1fbfd" stroke="#ecc4d6" stroke-width="0.55"/>
<ellipse cx="311.8" cy="752.0" rx="6.1" ry="4.4" transform="rotate(-7 311.8 752.0)" fill="#f1fbfd" stroke="#ecc4d6" stroke-width="0.55"/>
<ellipse cx="399.8" cy="745.8" rx="8.1" ry="5.3" transform="rotate(-30 399.8 745.8)" fill="#f1fbfd" stroke="#ecc4d6" stroke-width="0.55"/>
<ellipse cx="352.1" cy="757.5" rx="7.7" ry="7.2" transform="rotate(-15 352.1 757.5)" fill="#f1fbfd" stroke="#ecc4d6" stroke-width="0.55"/>
<ellipse cx="289.3" cy="741.2" rx="7.4" ry="6.3" transform="rotate(-4 289.3 741.2)" fill="#f1fbfd" stroke="#ecc4d6" stroke-width="0.55"/>
<ellipse cx="444.3" cy="797.5" rx="5.1" ry="3.5" transform="rotate(-1 444.3 797.5)" fill="#f1fbfd" stroke="#ecc4d6" stroke-width="0.55"/>
<ellipse cx="339.5" cy="770.7" rx="4.7" ry="3.2" transform="rotate(31 339.5 770.7)" fill="#f1fbfd" stroke="#ecc4d6" stroke-width="0.55"/>
<ellipse cx="402.6" cy="796.0" rx="6.6" ry="4.7" transform="rotate(-34 402.6 796.0)" fill="#f1fbfd" stroke="#ecc4d6" stroke-width="0.55"/>
<ellipse cx="423.4" cy="791.4" rx="6.0" ry="5.2" transform="rotate(21 423.4 791.4)" fill="#f1fbfd" stroke="#ecc4d6" stroke-width="0.55"/>
<ellipse cx="418.4" cy="754.5" rx="6.9" ry="6.0" transform="rotate(-33 418.4 754.5)" fill="#f1fbfd" stroke="#ecc4d6" stroke-width="0.55"/>
<ellipse cx="286.0" cy="775.0" rx="8.5" ry="6.9" transform="rotate(38 286.0 775.0)" fill="#f1fbfd" stroke="#ecc4d6" stroke-width="0.55"/>
<ellipse cx="353.0" cy="743.9" rx="7.4" ry="5.4" transform="rotate(9 353.0 743.9)" fill="#f1fbfd" stroke="#ecc4d6" stroke-width="0.55"/>
<ellipse cx="337.1" cy="739.5" rx="9.0" ry="6.4" transform="rotate(-25 337.1 739.5)" fill="#f1fbfd" stroke="#ecc4d6" stroke-width="0.55"/>
<ellipse cx="420.2" cy="769.2" rx="5.9" ry="5.2" transform="rotate(-22 420.2 769.2)" fill="#f1fbfd" stroke="#ecc4d6" stroke-width="0.55"/>
<ellipse cx="357.1" cy="796.2" rx="5.2" ry="4.8" transform="rotate(-35 357.1 796.2)" fill="#f1fbfd" stroke="#ecc4d6" stroke-width="0.55"/>
<ellipse cx="289.0" cy="794.1" rx="8.1" ry="6.6" transform="rotate(-18 289.0 794.1)" fill="#f1fbfd" stroke="#ecc4d6" stroke-width="0.55"/>
<ellipse cx="326.6" cy="784.1" rx="6.3" ry="5.5" transform="rotate(19 326.6 784.1)" fill="#f1fbfd" stroke="#ecc4d6" stroke-width="0.55"/>
<ellipse cx="373.9" cy="779.7" rx="6.6" ry="5.5" transform="rotate(-36 373.9 779.7)" fill="#f1fbfd" stroke="#ecc4d6" stroke-width="0.55"/>
<ellipse cx="294.4" cy="759.8" rx="9.1" ry="6.1" transform="rotate(0 294.4 759.8)" fill="#f1fbfd" stroke="#ecc4d6" stroke-width="0.55"/>
<ellipse cx="406.5" cy="761.8" rx="7.5" ry="5.3" transform="rotate(-29 406.5 761.8)" fill="#f1fbfd" stroke="#ecc4d6" stroke-width="0.55"/>
<ellipse cx="431.7" cy="745.0" rx="5.0" ry="3.4" transform="rotate(-38 431.7 745.0)" fill="#f1fbfd" stroke="#ecc4d6" stroke-width="0.55"/>
<ellipse cx="369.5" cy="790.7" rx="6.0" ry="5.6" transform="rotate(-18 369.5 790.7)" fill="#f1fbfd" stroke="#ecc4d6" stroke-width="0.55"/>
<ellipse cx="416.7" cy="739.6" rx="7.3" ry="6.2" transform="rotate(-23 416.7 739.6)" fill="#f1fbfd" stroke="#ecc4d6" stroke-width="0.55"/>
<ellipse cx="366.9" cy="769.7" rx="6.0" ry="4.9" transform="rotate(-37 366.9 769.7)" fill="#f1fbfd" stroke="#ecc4d6" stroke-width="0.55"/>
<ellipse cx="389.3" cy="780.7" rx="5.0" ry="3.6" transform="rotate(-28 389.3 780.7)" fill="#f1fbfd" stroke="#ecc4d6" stroke-width="0.55"/>
<ellipse cx="339.5" cy="754.9" rx="6.7" ry="5.1" transform="rotate(-9 339.5 754.9)" fill="#f1fbfd" stroke="#ecc4d6" stroke-width="0.55"/>
<ellipse cx="330.3" cy="797.3" rx="6.3" ry="5.0" transform="rotate(38 330.3 797.3)" fill="#f1fbfd" stroke="#ecc4d6" stroke-width="0.55"/>
<ellipse cx="386.1" cy="745.4" rx="5.4" ry="3.6" transform="rotate(14 386.1 745.4)" fill="#f1fbfd" stroke="#ecc4d6" stroke-width="0.55"/>
<ellipse cx="302.8" cy="740.5" rx="5.9" ry="5.3" transform="rotate(-24 302.8 740.5)" fill="#f1fbfd" stroke="#ecc4d6" stroke-width="0.55"/>
<ellipse cx="439.9" cy="749.5" rx="4.9" ry="4.7" transform="rotate(-17 439.9 749.5)" fill="#f1fbfd" stroke="#ecc4d6" stroke-width="0.55"/>
<ellipse cx="301.5" cy="783.7" rx="8.4" ry="6.8" transform="rotate(-15 301.5 783.7)" fill="#f1fbfd" stroke="#ecc4d6" stroke-width="0.55"/>
<ellipse cx="320.0" cy="742.0" rx="7.9" ry="5.2" transform="rotate(22 320.0 742.0)" fill="#f1fbfd" stroke="#ecc4d6" stroke-width="0.55"/>
<ellipse cx="397.7" cy="773.6" rx="6.1" ry="4.3" transform="rotate(25 397.7 773.6)" fill="#f1fbfd" stroke="#ecc4d6" stroke-width="0.55"/>
<ellipse cx="397.2" cy="785.9" rx="5.3" ry="5.0" transform="rotate(-36 397.2 785.9)" fill="#f1fbfd" stroke="#ecc4d6" stroke-width="0.55"/>
<ellipse cx="365.6" cy="747.6" rx="5.7" ry="5.1" transform="rotate(-37 365.6 747.6)" fill="#f1fbfd" stroke="#ecc4d6" stroke-width="0.55"/>
<ellipse cx="385.2" cy="756.0" rx="5.1" ry="4.2" transform="rotate(-1 385.2 756.0)" fill="#f1fbfd" stroke="#ecc4d6" stroke-width="0.55"/>
<ellipse cx="324.1" cy="754.3" rx="4.9" ry="4.4" transform="rotate(-12 324.1 754.3)" fill="#f1fbfd" stroke="#ecc4d6" stroke-width="0.55"/>
<ellipse cx="331.8" cy="776.4" rx="4.6" ry="4.2" transform="rotate(26 331.8 776.4)" fill="#f1fbfd" stroke="#ecc4d6" stroke-width="0.55"/>
<ellipse cx="445.7" cy="770.3" rx="9.1" ry="8.6" transform="rotate(23 445.7 770.3)" fill="#f1fbfd" stroke="#ecc4d6" stroke-width="0.55"/>
<ellipse cx="410.1" cy="787.9" rx="5.3" ry="4.2" transform="rotate(15 410.1 787.9)" fill="#f1fbfd" stroke="#ecc4d6" stroke-width="0.55"/>
<ellipse cx="433.8" cy="796.7" rx="5.7" ry="4.3" transform="rotate(-25 433.8 796.7)" fill="#f1fbfd" stroke="#ecc4d6" stroke-width="0.55"/>
<ellipse cx="413.3" cy="797.4" rx="5.9" ry="5.2" transform="rotate(7 413.3 797.4)" fill="#f1fbfd" stroke="#ecc4d6" stroke-width="0.55"/>
<ellipse cx="282.2" cy="752.3" rx="6.1" ry="4.2" transform="rotate(-40 282.2 752.3)" fill="#f1fbfd" stroke="#ecc4d6" stroke-width="0.55"/>
<ellipse cx="301.1" cy="797.1" rx="5.1" ry="4.7" transform="rotate(11 301.1 797.1)" fill="#f1fbfd" stroke="#ecc4d6" stroke-width="0.55"/>
<ellipse cx="335.8" cy="785.8" rx="4.7" ry="3.6" transform="rotate(25 335.8 785.8)" fill="#f1fbfd" stroke="#ecc4d6" stroke-width="0.55"/>
<path d="M276.7,752.6 308.8,748.2 338.0,752.6 361.4,755.5 352.6,767.2 338.0,781.8 332.2,799.3 276.7,799.3" fill="#b04a74" filter="url(#ptex)" opacity=".95"/>
<ellipse cx="300.0" cy="761.4" rx="7.6" ry="1.2" transform="rotate(20 300.0 761.4)" fill="#8e2c56" filter="url(#kb1)"/>
<ellipse cx="319.0" cy="768.6" rx="6.5" ry="1.2" transform="rotate(50 319.0 768.6)" fill="#8e2c56" filter="url(#kb1)"/>
<ellipse cx="327.8" cy="777.4" rx="5.9" ry="1.2" transform="rotate(-30 327.8 777.4)" fill="#8e2c56" filter="url(#kb1)"/>
<ellipse cx="300.0" cy="780.3" rx="5.3" ry="1.2" transform="rotate(40 300.0 780.3)" fill="#8e2c56" filter="url(#kb1)"/>
<ellipse cx="349.7" cy="757.8" rx="6.5" ry="1.2" transform="rotate(5 349.7 757.8)" fill="#8e2c56" filter="url(#kb1)"/>
<ellipse cx="291.3" cy="755.5" rx="4.1" ry="1.2" transform="rotate(-10 291.3 755.5)" fill="#8e2c56" filter="url(#kb1)"/>
<ellipse cx="308.8" cy="790.5" rx="6.5" ry="1.2" transform="rotate(10 308.8 790.5)" fill="#8e2c56" filter="url(#kb1)"/>
<ellipse cx="323.4" cy="793.5" rx="4.7" ry="1.2" transform="rotate(-20 323.4 793.5)" fill="#8e2c56" filter="url(#kb1)"/>
<polygon points="274.6,717.6 448.9,714.6 448.9,734.5 411.0,736.8 370.1,738.0 329.2,739.7 288.4,741.5 274.6,739.7" fill="#ecb4ba" filter="url(#kb2)"/>
<polygon points="274.6,693.0 282.5,688.9 294.2,684.3 303.0,681.4 317.6,678.4 338.0,676.1 349.7,677.8 361.4,681.9 375.9,686.0 386.2,688.9 393.5,693.0 396.4,687.2 399.9,681.9 411.0,679.6 428.5,679.0 448.9,679.6 448.9,727.8 428.5,726.9 411.0,729.8 390.5,732.7 370.1,731.0 352.6,734.5 329.2,732.7 305.9,736.8 288.4,735.1 274.6,732.7" fill="#f0a28a" filter="url(#kb1)"/>
<polygon points="274.6,693.0 282.5,688.9 294.2,684.3 303.0,681.4 317.6,678.4 338.0,676.1 349.7,677.8 361.4,681.9 375.9,686.0 386.2,688.9 393.5,693.0 396.4,687.2 399.9,681.9 411.0,679.6 428.5,679.0 448.9,679.6 448.9,727.8 428.5,726.9 411.0,729.8 390.5,732.7 370.1,731.0 352.6,734.5 329.2,732.7 305.9,736.8 288.4,735.1 274.6,732.7" fill="#f0a28a" filter="url(#wtex)" opacity=".4"/>
<polygon points="274.6,711.1 300.0,711.7 338.0,708.8 375.9,705.9 405.1,705.9 448.9,702.4 448.9,721.1 411.0,722.8 375.9,723.4 338.0,724.6 300.0,725.1 274.6,722.8" fill="#ee7e42" filter="url(#kb2)" opacity=".9"/>
<polyline points="274.6,695.2 282.5,691.1 294.2,686.5 303.0,683.6 317.6,680.6 338.0,678.3 349.7,680.0 361.4,684.1 375.9,688.2 386.2,691.1 393.5,695.2 396.4,689.4 399.9,684.1 411.0,681.8 428.5,681.2 448.9,681.8" fill="none" stroke="#bc6482" stroke-width="4.6" filter="url(#kb1)" stroke-linejoin="round"/>
<polyline points="274.6,693.4 282.5,689.3 294.2,684.7 303.0,681.8 317.6,678.8 338.0,676.5 349.7,678.2 361.4,682.3 375.9,686.4 386.2,689.3 393.5,693.4 396.4,687.6 399.9,682.3 411.0,680.0 428.5,679.4 448.9,680.0" fill="none" stroke="#7c2c50" stroke-width="1" opacity=".85" stroke-linejoin="round"/>
</g>
<rect x="275.05" y="670.0" width="172.45" height="130.15" fill="none" stroke="#000" stroke-width="2.05"/>
<text x="289.4" y="684.2" font-family="Liberation Sans, Arial, sans-serif" font-size="13.2" fill="#000" text-anchor="start">ii</text>
<text x="421.5" y="788.2" font-family="Liberation Sans, Arial, sans-serif" font-size="13.2" fill="#000" text-anchor="middle">100 μm</text>
<rect x="413.9" y="793.9" width="19.9" height="2.1"/>
<g clip-path="url(#ck3)">
<rect x="459" y="670" width="175" height="131" fill="#e2f8fa"/>
<polygon points="459.6,694.8 473.4,691.9 490.9,687.2 508.4,683.1 517.2,685.4 523.0,679.6 530.3,679.0 534.7,685.4 540.5,680.2 546.4,683.7 560.9,683.1 581.4,686.0 601.8,689.5 619.3,692.4 634.5,694.8 634.5,800.8 459.6,800.8" fill="#ebacb0" filter="url(#kb1)"/>
<path d="M552.2,708.8 572.6,708.8 572.6,752.6 578.5,775.9 625.2,775.9 625.2,752.6 607.7,752.6 566.8,746.8 552.2,738.0" fill="#f6dde0" filter="url(#kb2)" opacity=".9"/>
<polygon points="459.6,694.8 473.4,691.9 490.9,687.2 508.4,683.1 517.2,685.4 523.0,679.6 530.3,679.0 534.7,685.4 540.5,680.2 546.4,683.7 560.9,683.1 581.4,686.0 601.8,689.5 619.3,692.4 634.5,694.8 634.5,800.8 459.6,800.8" fill="#f7e4e8" filter="url(#ptex)" opacity=".0"/>
<polygon points="459.6,695.4 490.9,688.4 511.3,686.0 537.6,691.9 560.9,685.4 581.4,687.2 601.8,690.7 634.5,695.4 634.5,703.5 613.5,700.6 590.1,696.5 572.6,699.5 555.1,702.4 537.6,698.9 514.2,695.9 496.7,696.5 479.2,701.2 459.6,707.6" fill="#e98350" filter="url(#kb1)"/>
<polyline points="459.6,696.0 473.4,693.1 490.9,688.4 508.4,684.3 517.2,686.6 523.0,680.8 530.3,680.2 534.7,686.6 540.5,681.4 546.4,684.9 560.9,684.3 581.4,687.2 601.8,690.7 619.3,693.6 634.5,696.0" fill="none" stroke="#b05474" stroke-width="2.2" filter="url(#kb1)" stroke-linejoin="round"/>
<path d="M493.8 684.3 L504.3 671.4" stroke="#e29aa8" stroke-width="1.1" fill="none"/>
<ellipse cx="562.4" cy="697.7" rx="15" ry="6" fill="#dfa0b0" filter="url(#kb1)"/>
<path d="M505.5,735.1 520.1,738.0 523.0,752.6 517.2,767.2 502.6,761.4 508.4,746.8" fill="#e88858" filter="url(#kb2)"/>
<ellipse cx="565.3" cy="757.8" rx="8" ry="8.5" fill="#cf7888" filter="url(#kb2)"/>
<ellipse cx="565.3" cy="757.8" rx="4.5" ry="4.5" fill="#b85a74" filter="url(#kb2)"/>
<path d="M459.6,777.4 508.4,774.5 546.4,778.9 575.5,781.8 634.5,775.9 634.5,800.8 459.6,800.8" fill="#f5dfe4" filter="url(#kb2)"/>
<ellipse cx="467.5" cy="791.1" rx="7" ry="1.5" transform="rotate(24 467.5 791.1)" fill="#e8764a" filter="url(#kb1)"/>
<ellipse cx="471.6" cy="795.8" rx="7" ry="1.6" transform="rotate(20 471.6 795.8)" fill="#ea8258" filter="url(#kb1)"/>
<ellipse cx="478.6" cy="792.9" rx="7" ry="1.5" transform="rotate(24 478.6 792.9)" fill="#e8764a" filter="url(#kb1)"/>
<ellipse cx="482.7" cy="797.0" rx="7" ry="1.6" transform="rotate(20 482.7 797.0)" fill="#ea8258" filter="url(#kb1)"/>
<ellipse cx="489.7" cy="791.1" rx="7" ry="1.5" transform="rotate(24 489.7 791.1)" fill="#e8764a" filter="url(#kb1)"/>
<ellipse cx="493.8" cy="798.1" rx="7" ry="1.6" transform="rotate(20 493.8 798.1)" fill="#ea8258" filter="url(#kb1)"/>
<ellipse cx="500.8" cy="792.9" rx="7" ry="1.5" transform="rotate(24 500.8 792.9)" fill="#e8764a" filter="url(#kb1)"/>
<ellipse cx="504.9" cy="795.8" rx="7" ry="1.6" transform="rotate(20 504.9 795.8)" fill="#ea8258" filter="url(#kb1)"/>
<ellipse cx="511.9" cy="791.1" rx="7" ry="1.5" transform="rotate(24 511.9 791.1)" fill="#e8764a" filter="url(#kb1)"/>
<ellipse cx="516.0" cy="797.0" rx="7" ry="1.6" transform="rotate(20 516.0 797.0)" fill="#ea8258" filter="url(#kb1)"/>
<ellipse cx="523.0" cy="792.9" rx="7" ry="1.5" transform="rotate(24 523.0 792.9)" fill="#e8764a" filter="url(#kb1)"/>
<ellipse cx="527.1" cy="798.1" rx="7" ry="1.6" transform="rotate(20 527.1 798.1)" fill="#ea8258" filter="url(#kb1)"/>
<ellipse cx="534.1" cy="791.1" rx="7" ry="1.5" transform="rotate(24 534.1 791.1)" fill="#e8764a" filter="url(#kb1)"/>
<ellipse cx="538.2" cy="795.8" rx="7" ry="1.6" transform="rotate(20 538.2 795.8)" fill="#ea8258" filter="url(#kb1)"/>
<ellipse cx="545.2" cy="792.9" rx="7" ry="1.5" transform="rotate(24 545.2 792.9)" fill="#e8764a" filter="url(#kb1)"/>
<ellipse cx="549.3" cy="797.0" rx="7" ry="1.6" transform="rotate(20 549.3 797.0)" fill="#ea8258" filter="url(#kb1)"/>
<ellipse cx="556.3" cy="791.1" rx="7" ry="1.5" transform="rotate(24 556.3 791.1)" fill="#e8764a" filter="url(#kb1)"/>
<ellipse cx="560.4" cy="798.1" rx="7" ry="1.6" transform="rotate(20 560.4 798.1)" fill="#ea8258" filter="url(#kb1)"/>
<ellipse cx="495.3" cy="719.0" rx="15.5" ry="18.4" transform="rotate(8 495.3 719.0)" fill="#eafafc" stroke="#b8506e" stroke-width="1.3"/>
<ellipse cx="534.7" cy="717.0" rx="18.4" ry="17.2" transform="rotate(-5 534.7 717.0)" fill="#eafafc" stroke="#b8506e" stroke-width="1.3"/>
<ellipse cx="590.7" cy="726.9" rx="21.6" ry="25.1" transform="rotate(5 590.7 726.9)" fill="#eafafc" stroke="#b8506e" stroke-width="1.3"/>
<ellipse cx="538.2" cy="753.2" rx="14.9" ry="17.5" transform="rotate(0 538.2 753.2)" fill="#eafafc" stroke="#b8506e" stroke-width="1.3"/>
<ellipse cx="466.4" cy="728.6" rx="14.0" ry="18.1" transform="rotate(0 466.4 728.6)" fill="#eafafc" stroke="#b8506e" stroke-width="1.3"/>
<ellipse cx="625.8" cy="738.0" rx="12.8" ry="25.7" transform="rotate(0 625.8 738.0)" fill="#eafafc" stroke="#b8506e" stroke-width="1.3"/>
<ellipse cx="584.3" cy="759.0" rx="8.8" ry="5.8" transform="rotate(0 584.3 759.0)" fill="#eafafc" stroke="#b8506e" stroke-width="1.3"/>
<ellipse cx="603.3" cy="767.2" rx="10.5" ry="14.6" transform="rotate(10 603.3 767.2)" fill="#eafafc" stroke="#b8506e" stroke-width="1.3"/>
<ellipse cx="558.0" cy="778.9" rx="8.8" ry="2.9" transform="rotate(0 558.0 778.9)" fill="#eafafc" stroke="#b8506e" stroke-width="1.3"/>
<ellipse cx="625.2" cy="784.7" rx="9.9" ry="16.1" transform="rotate(0 625.2 784.7)" fill="#eafafc" stroke="#b8506e" stroke-width="1.3"/>
<ellipse cx="528.8" cy="783.2" rx="6.4" ry="4.1" transform="rotate(0 528.8 783.2)" fill="#eafafc" stroke="#b8506e" stroke-width="1.3"/>
<ellipse cx="499.6" cy="781.8" rx="5.3" ry="4.1" transform="rotate(0 499.6 781.8)" fill="#eafafc" stroke="#b8506e" stroke-width="1.3"/>
<ellipse cx="582.8" cy="771.6" rx="6.4" ry="4.1" transform="rotate(0 582.8 771.6)" fill="#eafafc" stroke="#b8506e" stroke-width="1.3"/>
<ellipse cx="613.5" cy="761.4" rx="4.1" ry="5.8" transform="rotate(0 613.5 761.4)" fill="#eafafc" stroke="#b8506e" stroke-width="1.3"/>
<path d="M459.6,749.7 479.2,745.6 499.6,746.8 515.7,752.6 512.8,762.8 499.6,767.2 493.8,758.4 485.0,767.2 467.5,765.7 459.6,762.8" fill="#eafafc" stroke="#d07088" stroke-width="1.4" stroke-linejoin="round"/>
</g>
<rect x="460.05" y="670.0" width="172.5" height="130.15" fill="none" stroke="#000" stroke-width="2.05"/>
<text x="470.9" y="684.2" font-family="Liberation Sans, Arial, sans-serif" font-size="13.2" fill="#000" text-anchor="start">iii</text>
<text x="604.7" y="788.2" font-family="Liberation Sans, Arial, sans-serif" font-size="13.2" fill="#000" text-anchor="middle">100 μm</text>
<rect x="596" y="793.9" width="19.8" height="2.1"/>
<text x="27.1" y="688.8" font-family="Liberation Sans, Arial, sans-serif" font-size="13.6">(k)</text>
<text x="56.4" y="735" font-family="Liberation Sans, Arial, sans-serif" font-size="13.6" font-weight="bold">HE</text>
<rect x="49.8" y="805.9" width="40.1" height="128.1" fill="#000"/>
<text transform="translate(66.3 929.2) rotate(-90)" font-family="Liberation Sans, Arial, sans-serif" font-size="11.6" font-weight="bold" fill="#ff0a0a">Human Mitochondria</text>
<text transform="translate(82 929.2) rotate(-90)" font-family="Liberation Sans, Arial, sans-serif" font-size="13.5" font-weight="bold"><tspan fill="#fff">/</tspan><tspan fill="#10e020">GFP</tspan><tspan fill="#fff">/</tspan><tspan fill="#18a8f0">Hoechst</tspan></text>
<g clip-path="url(#cf1)">
<rect x="92" y="804" width="173" height="131" fill="#010104"/>
<rect x="92" y="840" width="173" height="95" fill="url(#fdens)" filter="url(#dots)"/>
<rect x="92" y="838" width="173" height="60" fill="#d02818" filter="url(#dots2)" opacity=".8"/>
<path d="M92 912 L140 916 L175 926 L190 935 L92 935Z" fill="#010104" filter="url(#kb2)"/>
<path d="M91.2,809.8 145.1,809.1 197.7,810.2 266.3,811.2 266.3,825.9 91.2,825.2" fill="#260d06" filter="url(#kb1)"/>
<path d="M91.2,810.5 266.3,811.9 266.3,824.5 91.2,823.8" fill="#6a2410" filter="url(#dots2)" opacity=".8"/>
<polygon points="91.2,823.2 95.4,823.1 99.6,823.1 103.8,823.2 108.0,823.2 112.2,823.4 116.4,823.5 120.6,823.7 124.8,823.9 129.0,824.1 133.2,824.2 137.4,824.4 141.6,824.5 145.8,824.5 150.0,824.5 154.2,824.5 158.4,824.4 162.6,824.2 166.8,824.1 171.0,823.9 175.2,823.7 179.5,823.5 183.7,823.4 187.9,823.3 192.1,823.2 196.3,823.1 200.5,823.1 204.7,823.2 208.9,823.3 213.1,823.4 217.3,823.6 221.5,823.8 225.7,824.0 229.9,824.1 234.1,824.3 238.3,824.4 242.5,824.5 246.7,824.5 250.9,824.5 255.1,824.4 259.3,824.3 263.5,824.2 266.3,837.7 265.3,837.7 264.2,837.7 263.2,837.7 262.2,838.2 261.5,840.3 260.7,841.8 259.8,842.9 258.8,843.5 257.8,843.7 256.7,843.4 255.5,842.7 254.3,841.6 253.0,840.1 251.6,838.0 251.0,840.6 250.4,843.9 249.7,846.2 248.8,847.6 247.8,848.0 246.7,847.5 245.4,846.0 244.0,843.7 242.5,840.5 241.1,838.7 240.2,839.5 239.8,844.0 239.2,847.0 238.4,848.9 237.5,849.7 236.4,849.3 235.1,847.8 233.6,845.3 232.0,841.7 230.6,839.3 229.9,841.6 229.4,845.5 228.7,847.9 227.8,848.8 226.7,848.2 225.3,846.0 223.7,842.4 222.2,839.4 221.5,841.7 220.7,843.5 219.9,844.8 218.9,845.6 217.9,845.9 216.8,845.5 215.7,844.7 214.4,843.3 213.1,841.3 211.9,840.7 211.1,842.4 210.3,843.5 209.3,844.2 208.3,844.3 207.2,843.8 206.0,842.8 204.7,841.1 203.3,838.6 202.2,838.5 201.2,838.4 200.1,838.4 199.4,840.2 198.5,841.7 197.7,842.8 196.7,843.6 195.8,844.0 194.7,844.1 193.7,843.8 192.5,843.2 191.3,842.1 190.0,840.7 188.7,838.8 187.9,840.0 187.0,841.6 186.2,842.7 185.2,843.5 184.2,843.9 183.2,843.9 182.1,843.4 180.9,842.6 179.7,841.4 178.8,842.8 178.0,844.6 177.2,845.8 176.2,846.5 175.1,846.5 174.0,845.9 172.8,844.8 171.5,843.1 170.1,840.8 168.8,839.7 168.0,841.5 167.2,842.8 166.2,843.6 165.2,844.0 164.2,843.9 163.0,843.4 161.8,842.5 160.6,841.2 159.2,839.5 158.1,838.8 157.0,838.9 156.0,838.9 154.9,839.0 154.6,843.9 154.1,847.8 153.4,850.0 152.4,850.4 151.1,848.9 149.6,845.8 147.8,840.8 146.5,839.4 145.7,841.3 144.9,842.8 144.0,843.9 143.1,844.5 142.0,844.5 140.9,844.0 139.7,843.0 138.4,841.5 137.1,839.4 136.0,839.3 135.0,839.3 134.2,841.5 133.6,844.3 132.9,846.3 132.0,847.6 131.1,848.1 130.0,847.7 128.7,846.6 127.4,844.6 125.9,841.8 124.4,838.7 123.4,838.7 122.5,840.0 121.8,842.0 121.0,843.6 120.1,844.7 119.2,845.4 118.2,845.5 117.1,845.2 115.9,844.3 114.6,842.8 113.3,840.9 111.8,838.0 110.8,837.9 110.1,840.2 109.4,842.7 108.6,844.2 107.6,844.5 106.4,843.7 105.1,841.7 103.5,838.4 102.4,837.7 101.3,837.7 100.3,837.7 99.6,840.0 98.9,842.9 98.2,845.0 97.4,846.4 96.4,847.1 95.3,846.9 94.1,846.0 92.8,844.4 91.4,842.1" fill="#b0b446" filter="url(#gtex)"/>
<polyline points="91.2,824.8 95.4,824.7 99.6,824.7 103.8,824.8 108.0,824.8 112.2,825.0 116.4,825.1 120.6,825.3 124.8,825.5 129.0,825.7 133.2,825.8 137.4,826.0 141.6,826.1 145.8,826.1 150.0,826.1 154.2,826.1 158.4,826.0 162.6,825.8 166.8,825.7 171.0,825.5 175.2,825.3 179.5,825.1 183.7,825.0 187.9,824.9 192.1,824.8 196.3,824.7 200.5,824.7 204.7,824.8 208.9,824.9 213.1,825.0 217.3,825.2 221.5,825.4 225.7,825.6 229.9,825.7 234.1,825.9 238.3,826.0 242.5,826.1 246.7,826.1 250.9,826.1 255.1,826.0 259.3,825.9 263.5,825.8" fill="none" stroke="#c89a34" stroke-width="3.4" filter="url(#kb1)" opacity=".75"/>
</g>
<text x="232.6" y="917.4" font-family="Liberation Sans, Arial, sans-serif" font-size="13.2" fill="#fff" text-anchor="middle">100 μm</text>
<rect x="226.8" y="921.6" width="19.9" height="2.1" fill="#fff"/>
<g clip-path="url(#cf2)">
<rect x="277" y="804" width="172" height="131" fill="#010104"/>
<polygon points="277.6,825.9 288.4,826.4 300.0,827.9 317.6,829.4 323.4,824.7 335.1,821.8 349.7,819.4 358.4,821.2 367.2,824.1 381.8,828.2 393.5,831.1 405.1,826.4 422.7,827.0 440.2,829.9 448.4,826.4 448.4,865.7 277.6,861.3" fill="#160505" filter="url(#kb4)"/>
<polygon points="277.6,819.9 288.4,820.4 300.0,821.9 317.6,823.4 323.4,818.7 335.1,815.8 349.7,813.4 358.4,815.2 367.2,818.1 381.8,822.2 393.5,825.1 405.1,820.4 422.7,821.0 440.2,823.9 448.4,820.4 448.4,934.3 277.6,934.3" fill="url(#fdens)" filter="url(#dots)" opacity=".95"/>
<polygon points="277.6,825.9 288.4,826.4 300.0,827.9 317.6,829.4 323.4,824.7 335.1,821.8 349.7,819.4 358.4,821.2 367.2,824.1 381.8,828.2 393.5,831.1 405.1,826.4 422.7,827.0 440.2,829.9 448.4,826.4 448.4,865.7 277.6,861.3" fill="#e02a1c" filter="url(#dots2)"/>
<polygon points="279.6,887.6 308.8,887.6 329.2,897.8 352.6,900.7 349.7,906.6 329.2,913.9 308.8,919.7 279.6,922.6" fill="#2838e0" filter="url(#dense)" opacity=".45"/>
<polyline points="277.6,823.9 288.4,824.4 300.0,825.9 317.6,827.4 323.4,822.7 335.1,819.8 349.7,817.4 358.4,819.2 367.2,822.1 381.8,826.2 393.5,829.1 405.1,824.4 422.7,825.0 440.2,827.9 448.4,824.4" fill="none" stroke="#2c2c26" stroke-width="6.5" filter="url(#kb1)" stroke-linejoin="round"/>
<polyline points="277.6,825.1 288.4,825.6 300.0,827.1 317.6,828.6 323.4,823.9 335.1,821.0 349.7,818.6 358.4,820.4 367.2,823.3 381.8,827.4 393.5,830.3 405.1,825.6 422.7,826.2 440.2,829.1 448.4,825.6" fill="none" stroke="#3440d8" stroke-width="4.5" filter="url(#dense)" stroke-linejoin="round"/>
<polyline points="277.6,821.9 288.4,822.4 300.0,823.9 317.6,825.4 323.4,820.7 335.1,817.8 349.7,815.4 358.4,817.2 367.2,820.1 381.8,824.2 393.5,827.1 405.1,822.4 422.7,823.0 440.2,825.9 448.4,822.4" fill="none" stroke="#4a4a26" stroke-width="1.6" filter="url(#kb1)" stroke-linejoin="round"/>
<polyline points="277.6,819.9 288.4,820.4 300.0,821.9 317.6,823.4 323.4,818.7 335.1,815.8 349.7,813.4 358.4,815.2 367.2,818.1 381.8,822.2 393.5,825.1 405.1,820.4 422.7,821.0 440.2,823.9 448.4,820.4" fill="none" stroke="#d01a1a" stroke-width="1.1" stroke-linejoin="round"/>
</g>
<text x="419.3" y="916.8" font-family="Liberation Sans, Arial, sans-serif" font-size="13.2" fill="#fff" text-anchor="middle">100 μm</text>
<rect x="413.3" y="921.6" width="19" height="2.1" fill="#fff"/>
<g clip-path="url(#cf3)">
<rect x="461" y="804" width="171" height="131" fill="#010104"/>
<polygon points="461.1,828.0 479.2,824.5 493.8,822.2 508.4,819.3 523.0,816.4 537.6,815.2 552.2,814.6 566.8,815.8 581.4,816.9 596.0,818.7 607.7,820.4 619.3,819.9 632.2,819.9 632.2,934.3 461.1,934.3" fill="#03051a" filter="url(#kb1)"/>
<polygon points="461.1,828.0 479.2,824.5 493.8,822.2 508.4,819.3 523.0,816.4 537.6,815.2 552.2,814.6 566.8,815.8 581.4,816.9 596.0,818.7 607.7,820.4 619.3,819.9 632.2,819.9 632.2,934.3 461.1,934.3" fill="#2232c8" filter="url(#dots)" opacity=".85"/>
<polyline points="461.1,829.5 479.2,826.0 493.8,823.7 508.4,820.8 523.0,817.9 537.6,816.7 552.2,816.1 566.8,817.3 581.4,818.4 596.0,820.2 607.7,821.9 619.3,821.4 632.2,821.4" fill="none" stroke="#2430b0" stroke-width="2.2" filter="url(#kb1)" stroke-linejoin="round" opacity=".8"/>
<ellipse cx="515.7" cy="827.7" rx="6.5" ry="13.2" fill="#03030f" stroke="#1e2ca4" stroke-width="1.6" filter="url(#kb1)" transform="rotate(-20 515.7 827.7)"/>
<ellipse cx="540.5" cy="824.8" rx="5.9" ry="11.8" fill="#03030f" stroke="#1e2ca4" stroke-width="1.6" filter="url(#kb1)" transform="rotate(-20 540.5 824.8)"/>
<ellipse cx="562.4" cy="827.7" rx="7.6" ry="14.7" fill="#03030f" stroke="#1e2ca4" stroke-width="1.6" filter="url(#kb1)" transform="rotate(-20 562.4 827.7)"/>
<ellipse cx="530.3" cy="865.7" rx="18.1" ry="14.6" transform="rotate(-20 530.3 865.7)" fill="#03030e" stroke="#1e2eb0" stroke-width="3.6" filter="url(#kb1)"/>
<ellipse cx="579.9" cy="864.2" rx="8.8" ry="8.8" transform="rotate(0 579.9 864.2)" fill="#03030e" stroke="#1e2eb0" stroke-width="3.0" filter="url(#kb1)"/>
<circle cx="579.9" cy="864.2" r="3.5" fill="#1a2a9a" filter="url(#kb1)"/>
<ellipse cx="470.4" cy="868.6" rx="16.1" ry="17.5" transform="rotate(0 470.4 868.6)" fill="#010104" stroke="#3038b0" stroke-width="1.2"/>
<ellipse cx="474.8" cy="900.7" rx="14.6" ry="16.9" transform="rotate(10 474.8 900.7)" fill="#010104" stroke="#5a3a80" stroke-width="1.2"/>
<ellipse cx="500.2" cy="903.6" rx="8.8" ry="13.4" transform="rotate(10 500.2 903.6)" fill="#010104" stroke="#2c38c8" stroke-width="1.2"/>
<ellipse cx="555.1" cy="889.1" rx="14.6" ry="19.3" transform="rotate(10 555.1 889.1)" fill="#010104" stroke="#3a50b8" stroke-width="1.2"/>
<ellipse cx="578.5" cy="913.9" rx="18.1" ry="19.3" transform="rotate(0 578.5 913.9)" fill="#010104" stroke="#28349a" stroke-width="1.2"/>
<ellipse cx="615.0" cy="905.1" rx="18.7" ry="23.9" transform="rotate(0 615.0 905.1)" fill="#010104" stroke="#6a4a70" stroke-width="1.2"/>
<ellipse cx="523.0" cy="924.1" rx="8.8" ry="6.4" transform="rotate(0 523.0 924.1)" fill="#010104" stroke="#2838b0" stroke-width="1.2"/>
<ellipse cx="490.9" cy="928.5" rx="7.0" ry="4.7" transform="rotate(0 490.9 928.5)" fill="#010104" stroke="#2838b0" stroke-width="1.2"/>
</g>
<text x="602.6" y="916.8" font-family="Liberation Sans, Arial, sans-serif" font-size="13.2" fill="#fff" text-anchor="middle">100 μm</text>
<rect x="596" y="921.6" width="19.8" height="2.1" fill="#fff"/>
</svg>
</body></html>
